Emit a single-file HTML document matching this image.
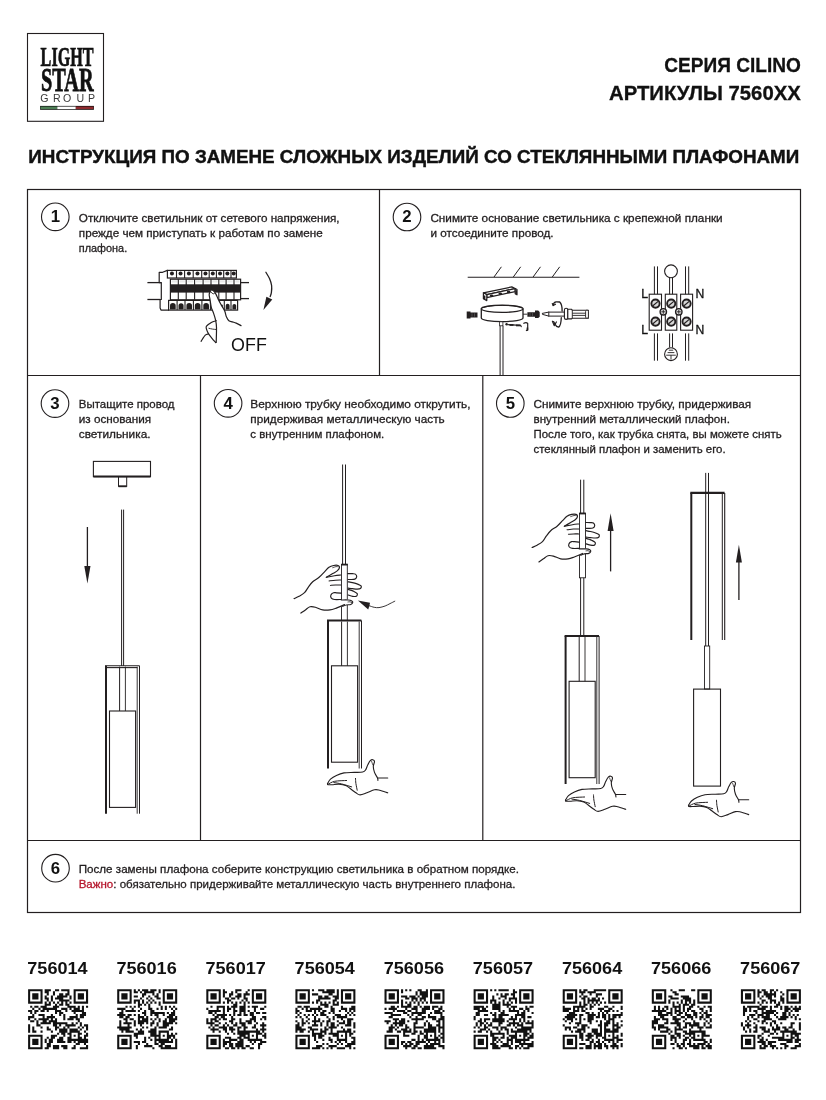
<!DOCTYPE html>
<html><head><meta charset="utf-8"><style>
html,body{margin:0;padding:0;background:#fff;}
body{width:826px;height:1100px;overflow:hidden;position:relative;font-family:"Liberation Sans",sans-serif;}
svg{position:absolute;left:0;top:0;will-change:transform;}
</style></head><body>
<svg width="826" height="1100" viewBox="0 0 826 1100">
<rect x="27.5" y="33.5" width="76" height="87.8" fill="none" stroke="#231f20" stroke-width="1.1"/>
<text x="40.6" y="66.1" font-family="Liberation Serif" font-size="27.8" font-weight="bold" fill="#111" textLength="53.0" lengthAdjust="spacingAndGlyphs" stroke="#111" stroke-width="0.7">LIGHT</text>
<text x="41.0" y="91.2" font-family="Liberation Serif" font-size="33.4" font-weight="bold" fill="#111" textLength="52.6" lengthAdjust="spacingAndGlyphs" stroke="#111" stroke-width="0.8">STAR</text>
<text x="40.2 53.0 63.0 76.4 88.0" y="102.0" font-family="Liberation Sans" font-size="10.6" fill="#3a3a3a">GROUP</text>
<rect x="40.1" y="105.9" width="53.8" height="3.9" fill="#111"/>
<rect x="40.6" y="106.6" width="16.7" height="2.5" fill="#4d7f55"/>
<rect x="57.3" y="106.6" width="18.5" height="2.5" fill="#fff"/>
<rect x="75.8" y="106.6" width="17.6" height="2.5" fill="#8e2a2e"/>
<text x="664.3" y="71.8" font-family="Liberation Sans" font-size="19.8" font-weight="bold" fill="#111" textLength="136.6" lengthAdjust="spacingAndGlyphs" stroke="#111" stroke-width="0.3">СЕРИЯ CILINO</text>
<text x="609.0" y="99.5" font-family="Liberation Sans" font-size="19.8" font-weight="bold" fill="#111" textLength="191.8" lengthAdjust="spacingAndGlyphs" stroke="#111" stroke-width="0.3">АРТИКУЛЫ 7560XX</text>
<text x="28.3" y="162.6" font-family="Liberation Sans" font-size="19.2" font-weight="bold" fill="#111" textLength="771.0" lengthAdjust="spacingAndGlyphs" stroke="#111" stroke-width="0.45">ИНСТРУКЦИЯ ПО ЗАМЕНЕ СЛОЖНЫХ ИЗДЕЛИЙ СО СТЕКЛЯННЫМИ ПЛАФОНАМИ</text>
<g stroke="#231f20" stroke-width="1.2" fill="none">
<rect x="27.5" y="189.5" width="773" height="723"/>
<line x1="379.5" y1="189.5" x2="379.5" y2="375.5"/>
<line x1="27.5" y1="375.5" x2="800.5" y2="375.5"/>
<line x1="200.5" y1="375.5" x2="200.5" y2="840.5"/>
<line x1="482.8" y1="375.5" x2="482.8" y2="840.5"/>
<line x1="27.5" y1="840.5" x2="800.5" y2="840.5"/>
</g>
<circle cx="55.3" cy="216.8" r="13.8" fill="none" stroke="#231f20" stroke-width="1.1"/>
<text x="55.3" y="222.20000000000002" font-family="Liberation Sans" font-size="16.8" font-weight="bold" fill="#111" text-anchor="middle">1</text>
<circle cx="407" cy="217" r="13.8" fill="none" stroke="#231f20" stroke-width="1.1"/>
<text x="407" y="222.4" font-family="Liberation Sans" font-size="16.8" font-weight="bold" fill="#111" text-anchor="middle">2</text>
<circle cx="55" cy="403.6" r="13.8" fill="none" stroke="#231f20" stroke-width="1.1"/>
<text x="55" y="409.0" font-family="Liberation Sans" font-size="16.8" font-weight="bold" fill="#111" text-anchor="middle">3</text>
<circle cx="228.1" cy="403.3" r="13.8" fill="none" stroke="#231f20" stroke-width="1.1"/>
<text x="228.1" y="408.7" font-family="Liberation Sans" font-size="16.8" font-weight="bold" fill="#111" text-anchor="middle">4</text>
<circle cx="510.3" cy="403.5" r="13.8" fill="none" stroke="#231f20" stroke-width="1.1"/>
<text x="510.3" y="408.9" font-family="Liberation Sans" font-size="16.8" font-weight="bold" fill="#111" text-anchor="middle">5</text>
<circle cx="55.5" cy="868.2" r="13.8" fill="none" stroke="#231f20" stroke-width="1.1"/>
<text x="55.5" y="873.6" font-family="Liberation Sans" font-size="16.8" font-weight="bold" fill="#111" text-anchor="middle">6</text>
<text x="78.8" y="221.7" font-family="Liberation Sans" font-size="11.8" font-weight="normal" fill="#231f20" textLength="260.8" lengthAdjust="spacingAndGlyphs" stroke="#1d1a1b" stroke-width="0.3">Отключите светильник от сетевого напряжения,</text>
<text x="78.8" y="236.8" font-family="Liberation Sans" font-size="11.8" font-weight="normal" fill="#231f20" textLength="244.0" lengthAdjust="spacingAndGlyphs" stroke="#1d1a1b" stroke-width="0.3">прежде чем приступать к работам по замене</text>
<text x="78.8" y="251.8" font-family="Liberation Sans" font-size="11.8" font-weight="normal" fill="#231f20" textLength="48.4" lengthAdjust="spacingAndGlyphs" stroke="#1d1a1b" stroke-width="0.3">плафона.</text>
<text x="430.4" y="221.7" font-family="Liberation Sans" font-size="11.8" font-weight="normal" fill="#231f20" textLength="292.2" lengthAdjust="spacingAndGlyphs" stroke="#1d1a1b" stroke-width="0.3">Снимите основание светильника с крепежной планки</text>
<text x="430.4" y="236.7" font-family="Liberation Sans" font-size="11.8" font-weight="normal" fill="#231f20" textLength="123.2" lengthAdjust="spacingAndGlyphs" stroke="#1d1a1b" stroke-width="0.3">и отсоедините провод.</text>
<text x="78.8" y="407.6" font-family="Liberation Sans" font-size="11.8" font-weight="normal" fill="#231f20" textLength="95.7" lengthAdjust="spacingAndGlyphs" stroke="#1d1a1b" stroke-width="0.3">Вытащите провод</text>
<text x="78.8" y="422.6" font-family="Liberation Sans" font-size="11.8" font-weight="normal" fill="#231f20" textLength="72.4" lengthAdjust="spacingAndGlyphs" stroke="#1d1a1b" stroke-width="0.3">из основания</text>
<text x="78.8" y="437.6" font-family="Liberation Sans" font-size="11.8" font-weight="normal" fill="#231f20" textLength="71.7" lengthAdjust="spacingAndGlyphs" stroke="#1d1a1b" stroke-width="0.3">светильника.</text>
<text x="250.3" y="407.7" font-family="Liberation Sans" font-size="11.8" font-weight="normal" fill="#231f20" textLength="220.3" lengthAdjust="spacingAndGlyphs" stroke="#1d1a1b" stroke-width="0.3">Верхнюю трубку необходимо открутить,</text>
<text x="250.3" y="422.7" font-family="Liberation Sans" font-size="11.8" font-weight="normal" fill="#231f20" textLength="194.4" lengthAdjust="spacingAndGlyphs" stroke="#1d1a1b" stroke-width="0.3">придерживая металлическую часть</text>
<text x="250.3" y="437.7" font-family="Liberation Sans" font-size="11.8" font-weight="normal" fill="#231f20" textLength="134.0" lengthAdjust="spacingAndGlyphs" stroke="#1d1a1b" stroke-width="0.3">с внутренним плафоном.</text>
<text x="533.5" y="407.9" font-family="Liberation Sans" font-size="11.8" font-weight="normal" fill="#231f20" textLength="217.7" lengthAdjust="spacingAndGlyphs" stroke="#1d1a1b" stroke-width="0.3">Снимите верхнюю трубку, придерживая</text>
<text x="533.5" y="422.7" font-family="Liberation Sans" font-size="11.8" font-weight="normal" fill="#231f20" textLength="196.4" lengthAdjust="spacingAndGlyphs" stroke="#1d1a1b" stroke-width="0.3">внутренний металлический плафон.</text>
<text x="533.5" y="437.8" font-family="Liberation Sans" font-size="11.8" font-weight="normal" fill="#231f20" textLength="248.1" lengthAdjust="spacingAndGlyphs" stroke="#1d1a1b" stroke-width="0.3">После того, как трубка снята, вы можете снять</text>
<text x="533.5" y="452.7" font-family="Liberation Sans" font-size="11.8" font-weight="normal" fill="#231f20" textLength="192.1" lengthAdjust="spacingAndGlyphs" stroke="#1d1a1b" stroke-width="0.3">стеклянный плафон и заменить его.</text>
<text x="78.7" y="872.8" font-family="Liberation Sans" font-size="11.8" font-weight="normal" fill="#231f20" textLength="440.3" lengthAdjust="spacingAndGlyphs" stroke="#1d1a1b" stroke-width="0.3">После замены плафона соберите конструкцию светильника в обратном порядке.</text>
<text x="78.7" y="887.8" font-family="Liberation Sans" font-size="11.8" fill="#231f20" stroke="#231f20" stroke-width="0.3" textLength="436.7" lengthAdjust="spacingAndGlyphs"><tspan fill="#b5152b" stroke="#b5152b">Важно</tspan>: обязательно придерживайте металлическую часть внутреннего плафона.</text>
<text x="27.3" y="974.4" font-family="Liberation Sans" font-size="17.0" font-weight="bold" fill="#111" textLength="60.3" lengthAdjust="spacingAndGlyphs">756014</text>
<path fill="#111" d="M28.10 989.20h14.48v2.07h-14.48zM44.65 989.20h6.21v2.07h-6.21zM55.00 989.20h4.14v2.07h-4.14zM61.20 989.20h8.28v2.07h-8.28zM73.62 989.20h14.48v2.07h-14.48zM28.10 991.27h2.07v2.07h-2.07zM40.51 991.27h2.07v2.07h-2.07zM44.65 991.27h4.14v2.07h-4.14zM52.93 991.27h2.07v2.07h-2.07zM67.41 991.27h2.07v2.07h-2.07zM73.62 991.27h2.07v2.07h-2.07zM86.03 991.27h2.07v2.07h-2.07zM28.10 993.34h2.07v2.07h-2.07zM32.24 993.34h6.21v2.07h-6.21zM40.51 993.34h2.07v2.07h-2.07zM46.72 993.34h2.07v2.07h-2.07zM52.93 993.34h2.07v2.07h-2.07zM59.13 993.34h4.14v2.07h-4.14zM65.34 993.34h4.14v2.07h-4.14zM73.62 993.34h2.07v2.07h-2.07zM77.76 993.34h6.21v2.07h-6.21zM86.03 993.34h2.07v2.07h-2.07zM28.10 995.41h2.07v2.07h-2.07zM32.24 995.41h6.21v2.07h-6.21zM40.51 995.41h2.07v2.07h-2.07zM44.65 995.41h2.07v2.07h-2.07zM50.86 995.41h2.07v2.07h-2.07zM57.07 995.41h10.34v2.07h-10.34zM69.48 995.41h2.07v2.07h-2.07zM73.62 995.41h2.07v2.07h-2.07zM77.76 995.41h6.21v2.07h-6.21zM86.03 995.41h2.07v2.07h-2.07zM28.10 997.48h2.07v2.07h-2.07zM32.24 997.48h6.21v2.07h-6.21zM40.51 997.48h2.07v2.07h-2.07zM44.65 997.48h4.14v2.07h-4.14zM50.86 997.48h2.07v2.07h-2.07zM55.00 997.48h8.28v2.07h-8.28zM69.48 997.48h2.07v2.07h-2.07zM73.62 997.48h2.07v2.07h-2.07zM77.76 997.48h6.21v2.07h-6.21zM86.03 997.48h2.07v2.07h-2.07zM28.10 999.54h2.07v2.07h-2.07zM40.51 999.54h2.07v2.07h-2.07zM46.72 999.54h2.07v2.07h-2.07zM50.86 999.54h2.07v2.07h-2.07zM59.13 999.54h10.34v2.07h-10.34zM73.62 999.54h2.07v2.07h-2.07zM86.03 999.54h2.07v2.07h-2.07zM28.10 1001.61h14.48v2.07h-14.48zM44.65 1001.61h2.07v2.07h-2.07zM48.79 1001.61h2.07v2.07h-2.07zM52.93 1001.61h2.07v2.07h-2.07zM57.07 1001.61h2.07v2.07h-2.07zM61.20 1001.61h2.07v2.07h-2.07zM65.34 1001.61h2.07v2.07h-2.07zM69.48 1001.61h2.07v2.07h-2.07zM73.62 1001.61h14.48v2.07h-14.48zM44.65 1003.68h6.21v2.07h-6.21zM55.00 1003.68h2.07v2.07h-2.07zM59.13 1003.68h4.14v2.07h-4.14zM65.34 1003.68h4.14v2.07h-4.14zM30.17 1005.75h2.07v2.07h-2.07zM34.31 1005.75h4.14v2.07h-4.14zM40.51 1005.75h6.21v2.07h-6.21zM52.93 1005.75h6.21v2.07h-6.21zM67.41 1005.75h8.28v2.07h-8.28zM77.76 1005.75h2.07v2.07h-2.07zM81.89 1005.75h2.07v2.07h-2.07zM86.03 1005.75h2.07v2.07h-2.07zM32.24 1007.82h2.07v2.07h-2.07zM38.44 1007.82h2.07v2.07h-2.07zM42.58 1007.82h14.48v2.07h-14.48zM61.20 1007.82h6.21v2.07h-6.21zM69.48 1007.82h2.07v2.07h-2.07zM73.62 1007.82h6.21v2.07h-6.21zM81.89 1007.82h2.07v2.07h-2.07zM28.10 1009.89h4.14v2.07h-4.14zM34.31 1009.89h4.14v2.07h-4.14zM40.51 1009.89h4.14v2.07h-4.14zM46.72 1009.89h2.07v2.07h-2.07zM55.00 1009.89h6.21v2.07h-6.21zM65.34 1009.89h2.07v2.07h-2.07zM71.55 1009.89h12.41v2.07h-12.41zM30.17 1011.96h2.07v2.07h-2.07zM34.31 1011.96h2.07v2.07h-2.07zM55.00 1011.96h2.07v2.07h-2.07zM59.13 1011.96h4.14v2.07h-4.14zM73.62 1011.96h2.07v2.07h-2.07zM81.89 1011.96h4.14v2.07h-4.14zM32.24 1014.03h2.07v2.07h-2.07zM38.44 1014.03h6.21v2.07h-6.21zM50.86 1014.03h2.07v2.07h-2.07zM59.13 1014.03h2.07v2.07h-2.07zM63.27 1014.03h2.07v2.07h-2.07zM75.69 1014.03h2.07v2.07h-2.07zM79.82 1014.03h6.21v2.07h-6.21zM28.10 1016.10h6.21v2.07h-6.21zM42.58 1016.10h2.07v2.07h-2.07zM46.72 1016.10h8.28v2.07h-8.28zM63.27 1016.10h2.07v2.07h-2.07zM69.48 1016.10h8.28v2.07h-8.28zM79.82 1016.10h4.14v2.07h-4.14zM28.10 1018.17h2.07v2.07h-2.07zM34.31 1018.17h2.07v2.07h-2.07zM38.44 1018.17h10.34v2.07h-10.34zM50.86 1018.17h2.07v2.07h-2.07zM55.00 1018.17h2.07v2.07h-2.07zM63.27 1018.17h2.07v2.07h-2.07zM67.41 1018.17h6.21v2.07h-6.21zM75.69 1018.17h4.14v2.07h-4.14zM30.17 1020.23h4.14v2.07h-4.14zM36.38 1020.23h2.07v2.07h-2.07zM42.58 1020.23h4.14v2.07h-4.14zM48.79 1020.23h8.28v2.07h-8.28zM77.76 1020.23h2.07v2.07h-2.07zM36.38 1022.30h2.07v2.07h-2.07zM40.51 1022.30h10.34v2.07h-10.34zM52.93 1022.30h14.48v2.07h-14.48zM71.55 1022.30h2.07v2.07h-2.07zM75.69 1022.30h2.07v2.07h-2.07zM79.82 1022.30h2.07v2.07h-2.07zM28.10 1024.37h2.07v2.07h-2.07zM36.38 1024.37h4.14v2.07h-4.14zM52.93 1024.37h4.14v2.07h-4.14zM59.13 1024.37h2.07v2.07h-2.07zM65.34 1024.37h10.34v2.07h-10.34zM79.82 1024.37h2.07v2.07h-2.07zM83.96 1024.37h4.14v2.07h-4.14zM28.10 1026.44h2.07v2.07h-2.07zM32.24 1026.44h2.07v2.07h-2.07zM40.51 1026.44h2.07v2.07h-2.07zM46.72 1026.44h2.07v2.07h-2.07zM55.00 1026.44h4.14v2.07h-4.14zM63.27 1026.44h2.07v2.07h-2.07zM67.41 1026.44h2.07v2.07h-2.07zM77.76 1026.44h2.07v2.07h-2.07zM81.89 1026.44h2.07v2.07h-2.07zM86.03 1026.44h2.07v2.07h-2.07zM28.10 1028.51h2.07v2.07h-2.07zM32.24 1028.51h2.07v2.07h-2.07zM46.72 1028.51h4.14v2.07h-4.14zM55.00 1028.51h2.07v2.07h-2.07zM59.13 1028.51h8.28v2.07h-8.28zM69.48 1028.51h8.28v2.07h-8.28zM79.82 1028.51h2.07v2.07h-2.07zM86.03 1028.51h2.07v2.07h-2.07zM28.10 1030.58h2.07v2.07h-2.07zM32.24 1030.58h4.14v2.07h-4.14zM40.51 1030.58h2.07v2.07h-2.07zM50.86 1030.58h2.07v2.07h-2.07zM59.13 1030.58h8.28v2.07h-8.28zM69.48 1030.58h10.34v2.07h-10.34zM83.96 1030.58h2.07v2.07h-2.07zM57.07 1032.65h2.07v2.07h-2.07zM61.20 1032.65h4.14v2.07h-4.14zM67.41 1032.65h4.14v2.07h-4.14zM77.76 1032.65h4.14v2.07h-4.14zM86.03 1032.65h2.07v2.07h-2.07zM28.10 1034.72h14.48v2.07h-14.48zM50.86 1034.72h6.21v2.07h-6.21zM63.27 1034.72h2.07v2.07h-2.07zM69.48 1034.72h2.07v2.07h-2.07zM73.62 1034.72h2.07v2.07h-2.07zM77.76 1034.72h2.07v2.07h-2.07zM83.96 1034.72h4.14v2.07h-4.14zM28.10 1036.79h2.07v2.07h-2.07zM40.51 1036.79h2.07v2.07h-2.07zM46.72 1036.79h2.07v2.07h-2.07zM50.86 1036.79h4.14v2.07h-4.14zM59.13 1036.79h4.14v2.07h-4.14zM67.41 1036.79h4.14v2.07h-4.14zM77.76 1036.79h4.14v2.07h-4.14zM83.96 1036.79h2.07v2.07h-2.07zM28.10 1038.86h2.07v2.07h-2.07zM32.24 1038.86h6.21v2.07h-6.21zM40.51 1038.86h2.07v2.07h-2.07zM44.65 1038.86h2.07v2.07h-2.07zM48.79 1038.86h4.14v2.07h-4.14zM57.07 1038.86h6.21v2.07h-6.21zM67.41 1038.86h20.69v2.07h-20.69zM28.10 1040.92h2.07v2.07h-2.07zM32.24 1040.92h6.21v2.07h-6.21zM40.51 1040.92h2.07v2.07h-2.07zM44.65 1040.92h2.07v2.07h-2.07zM48.79 1040.92h4.14v2.07h-4.14zM57.07 1040.92h8.28v2.07h-8.28zM67.41 1040.92h4.14v2.07h-4.14zM73.62 1040.92h2.07v2.07h-2.07zM77.76 1040.92h10.34v2.07h-10.34zM28.10 1042.99h2.07v2.07h-2.07zM32.24 1042.99h6.21v2.07h-6.21zM40.51 1042.99h2.07v2.07h-2.07zM46.72 1042.99h4.14v2.07h-4.14zM75.69 1042.99h4.14v2.07h-4.14zM83.96 1042.99h2.07v2.07h-2.07zM28.10 1045.06h2.07v2.07h-2.07zM40.51 1045.06h2.07v2.07h-2.07zM46.72 1045.06h4.14v2.07h-4.14zM52.93 1045.06h6.21v2.07h-6.21zM61.20 1045.06h6.21v2.07h-6.21zM73.62 1045.06h2.07v2.07h-2.07zM86.03 1045.06h2.07v2.07h-2.07zM28.10 1047.13h14.48v2.07h-14.48zM44.65 1047.13h4.14v2.07h-4.14zM52.93 1047.13h6.21v2.07h-6.21zM63.27 1047.13h4.14v2.07h-4.14zM71.55 1047.13h4.14v2.07h-4.14zM79.82 1047.13h8.28v2.07h-8.28z"/>
<text x="116.39999999999999" y="974.4" font-family="Liberation Sans" font-size="17.0" font-weight="bold" fill="#111" textLength="60.3" lengthAdjust="spacingAndGlyphs">756016</text>
<path fill="#111" d="M117.20 989.20h14.48v2.07h-14.48zM133.75 989.20h2.07v2.07h-2.07zM137.89 989.20h2.07v2.07h-2.07zM142.03 989.20h6.21v2.07h-6.21zM150.30 989.20h6.21v2.07h-6.21zM158.58 989.20h2.07v2.07h-2.07zM162.72 989.20h14.48v2.07h-14.48zM117.20 991.27h2.07v2.07h-2.07zM129.61 991.27h2.07v2.07h-2.07zM133.75 991.27h4.14v2.07h-4.14zM139.96 991.27h2.07v2.07h-2.07zM144.10 991.27h10.34v2.07h-10.34zM158.58 991.27h2.07v2.07h-2.07zM162.72 991.27h2.07v2.07h-2.07zM175.13 991.27h2.07v2.07h-2.07zM117.20 993.34h2.07v2.07h-2.07zM121.34 993.34h6.21v2.07h-6.21zM129.61 993.34h2.07v2.07h-2.07zM142.03 993.34h4.14v2.07h-4.14zM152.37 993.34h2.07v2.07h-2.07zM156.51 993.34h2.07v2.07h-2.07zM162.72 993.34h2.07v2.07h-2.07zM166.86 993.34h6.21v2.07h-6.21zM175.13 993.34h2.07v2.07h-2.07zM117.20 995.41h2.07v2.07h-2.07zM121.34 995.41h6.21v2.07h-6.21zM129.61 995.41h2.07v2.07h-2.07zM133.75 995.41h4.14v2.07h-4.14zM142.03 995.41h2.07v2.07h-2.07zM148.23 995.41h2.07v2.07h-2.07zM154.44 995.41h4.14v2.07h-4.14zM162.72 995.41h2.07v2.07h-2.07zM166.86 995.41h6.21v2.07h-6.21zM175.13 995.41h2.07v2.07h-2.07zM117.20 997.48h2.07v2.07h-2.07zM121.34 997.48h6.21v2.07h-6.21zM129.61 997.48h2.07v2.07h-2.07zM139.96 997.48h2.07v2.07h-2.07zM146.17 997.48h2.07v2.07h-2.07zM150.30 997.48h2.07v2.07h-2.07zM156.51 997.48h4.14v2.07h-4.14zM162.72 997.48h2.07v2.07h-2.07zM166.86 997.48h6.21v2.07h-6.21zM175.13 997.48h2.07v2.07h-2.07zM117.20 999.54h2.07v2.07h-2.07zM129.61 999.54h2.07v2.07h-2.07zM133.75 999.54h6.21v2.07h-6.21zM142.03 999.54h2.07v2.07h-2.07zM148.23 999.54h2.07v2.07h-2.07zM152.37 999.54h2.07v2.07h-2.07zM162.72 999.54h2.07v2.07h-2.07zM175.13 999.54h2.07v2.07h-2.07zM117.20 1001.61h14.48v2.07h-14.48zM133.75 1001.61h2.07v2.07h-2.07zM137.89 1001.61h2.07v2.07h-2.07zM142.03 1001.61h2.07v2.07h-2.07zM146.17 1001.61h2.07v2.07h-2.07zM150.30 1001.61h2.07v2.07h-2.07zM154.44 1001.61h2.07v2.07h-2.07zM158.58 1001.61h2.07v2.07h-2.07zM162.72 1001.61h14.48v2.07h-14.48zM137.89 1003.68h4.14v2.07h-4.14zM144.10 1003.68h2.07v2.07h-2.07zM148.23 1003.68h2.07v2.07h-2.07zM158.58 1003.68h2.07v2.07h-2.07zM125.48 1005.75h2.07v2.07h-2.07zM129.61 1005.75h2.07v2.07h-2.07zM133.75 1005.75h2.07v2.07h-2.07zM137.89 1005.75h2.07v2.07h-2.07zM148.23 1005.75h2.07v2.07h-2.07zM160.65 1005.75h2.07v2.07h-2.07zM164.79 1005.75h2.07v2.07h-2.07zM168.92 1005.75h2.07v2.07h-2.07zM173.06 1005.75h2.07v2.07h-2.07zM117.20 1007.82h8.28v2.07h-8.28zM131.68 1007.82h2.07v2.07h-2.07zM139.96 1007.82h2.07v2.07h-2.07zM148.23 1007.82h4.14v2.07h-4.14zM156.51 1007.82h2.07v2.07h-2.07zM160.65 1007.82h2.07v2.07h-2.07zM164.79 1007.82h2.07v2.07h-2.07zM170.99 1007.82h2.07v2.07h-2.07zM175.13 1007.82h2.07v2.07h-2.07zM121.34 1009.89h2.07v2.07h-2.07zM125.48 1009.89h10.34v2.07h-10.34zM137.89 1009.89h2.07v2.07h-2.07zM144.10 1009.89h2.07v2.07h-2.07zM150.30 1009.89h4.14v2.07h-4.14zM173.06 1009.89h2.07v2.07h-2.07zM119.27 1011.96h4.14v2.07h-4.14zM142.03 1011.96h4.14v2.07h-4.14zM150.30 1011.96h14.48v2.07h-14.48zM166.86 1011.96h2.07v2.07h-2.07zM170.99 1011.96h4.14v2.07h-4.14zM117.20 1014.03h8.28v2.07h-8.28zM127.54 1014.03h4.14v2.07h-4.14zM133.75 1014.03h2.07v2.07h-2.07zM137.89 1014.03h2.07v2.07h-2.07zM144.10 1014.03h2.07v2.07h-2.07zM150.30 1014.03h2.07v2.07h-2.07zM154.44 1014.03h4.14v2.07h-4.14zM162.72 1014.03h2.07v2.07h-2.07zM168.92 1014.03h6.21v2.07h-6.21zM119.27 1016.10h4.14v2.07h-4.14zM125.48 1016.10h4.14v2.07h-4.14zM137.89 1016.10h6.21v2.07h-6.21zM146.17 1016.10h2.07v2.07h-2.07zM156.51 1016.10h2.07v2.07h-2.07zM166.86 1016.10h6.21v2.07h-6.21zM175.13 1016.10h2.07v2.07h-2.07zM123.41 1018.17h4.14v2.07h-4.14zM129.61 1018.17h4.14v2.07h-4.14zM137.89 1018.17h2.07v2.07h-2.07zM142.03 1018.17h6.21v2.07h-6.21zM150.30 1018.17h2.07v2.07h-2.07zM154.44 1018.17h2.07v2.07h-2.07zM158.58 1018.17h2.07v2.07h-2.07zM164.79 1018.17h2.07v2.07h-2.07zM168.92 1018.17h8.28v2.07h-8.28zM119.27 1020.23h2.07v2.07h-2.07zM125.48 1020.23h2.07v2.07h-2.07zM133.75 1020.23h2.07v2.07h-2.07zM137.89 1020.23h10.34v2.07h-10.34zM152.37 1020.23h2.07v2.07h-2.07zM158.58 1020.23h2.07v2.07h-2.07zM162.72 1020.23h4.14v2.07h-4.14zM168.92 1020.23h6.21v2.07h-6.21zM119.27 1022.30h2.07v2.07h-2.07zM123.41 1022.30h8.28v2.07h-8.28zM133.75 1022.30h2.07v2.07h-2.07zM137.89 1022.30h6.21v2.07h-6.21zM146.17 1022.30h2.07v2.07h-2.07zM150.30 1022.30h4.14v2.07h-4.14zM156.51 1022.30h2.07v2.07h-2.07zM162.72 1022.30h10.34v2.07h-10.34zM175.13 1022.30h2.07v2.07h-2.07zM119.27 1024.37h2.07v2.07h-2.07zM127.54 1024.37h2.07v2.07h-2.07zM133.75 1024.37h2.07v2.07h-2.07zM139.96 1024.37h2.07v2.07h-2.07zM150.30 1024.37h2.07v2.07h-2.07zM156.51 1024.37h2.07v2.07h-2.07zM162.72 1024.37h6.21v2.07h-6.21zM117.20 1026.44h14.48v2.07h-14.48zM142.03 1026.44h2.07v2.07h-2.07zM146.17 1026.44h2.07v2.07h-2.07zM154.44 1026.44h2.07v2.07h-2.07zM158.58 1026.44h8.28v2.07h-8.28zM170.99 1026.44h2.07v2.07h-2.07zM119.27 1028.51h10.34v2.07h-10.34zM135.82 1028.51h2.07v2.07h-2.07zM139.96 1028.51h2.07v2.07h-2.07zM150.30 1028.51h6.21v2.07h-6.21zM168.92 1028.51h4.14v2.07h-4.14zM121.34 1030.58h2.07v2.07h-2.07zM125.48 1030.58h8.28v2.07h-8.28zM137.89 1030.58h6.21v2.07h-6.21zM148.23 1030.58h8.28v2.07h-8.28zM158.58 1030.58h10.34v2.07h-10.34zM133.75 1032.65h10.34v2.07h-10.34zM150.30 1032.65h6.21v2.07h-6.21zM158.58 1032.65h2.07v2.07h-2.07zM166.86 1032.65h2.07v2.07h-2.07zM170.99 1032.65h2.07v2.07h-2.07zM175.13 1032.65h2.07v2.07h-2.07zM117.20 1034.72h14.48v2.07h-14.48zM133.75 1034.72h4.14v2.07h-4.14zM150.30 1034.72h10.34v2.07h-10.34zM162.72 1034.72h2.07v2.07h-2.07zM166.86 1034.72h8.28v2.07h-8.28zM117.20 1036.79h2.07v2.07h-2.07zM129.61 1036.79h2.07v2.07h-2.07zM135.82 1036.79h2.07v2.07h-2.07zM144.10 1036.79h2.07v2.07h-2.07zM148.23 1036.79h2.07v2.07h-2.07zM154.44 1036.79h2.07v2.07h-2.07zM158.58 1036.79h2.07v2.07h-2.07zM166.86 1036.79h4.14v2.07h-4.14zM173.06 1036.79h2.07v2.07h-2.07zM117.20 1038.86h2.07v2.07h-2.07zM121.34 1038.86h6.21v2.07h-6.21zM129.61 1038.86h2.07v2.07h-2.07zM144.10 1038.86h2.07v2.07h-2.07zM150.30 1038.86h2.07v2.07h-2.07zM154.44 1038.86h14.48v2.07h-14.48zM170.99 1038.86h2.07v2.07h-2.07zM175.13 1038.86h2.07v2.07h-2.07zM117.20 1040.92h2.07v2.07h-2.07zM121.34 1040.92h6.21v2.07h-6.21zM129.61 1040.92h2.07v2.07h-2.07zM133.75 1040.92h6.21v2.07h-6.21zM142.03 1040.92h4.14v2.07h-4.14zM154.44 1040.92h2.07v2.07h-2.07zM158.58 1040.92h14.48v2.07h-14.48zM175.13 1040.92h2.07v2.07h-2.07zM117.20 1042.99h2.07v2.07h-2.07zM121.34 1042.99h6.21v2.07h-6.21zM129.61 1042.99h2.07v2.07h-2.07zM137.89 1042.99h2.07v2.07h-2.07zM146.17 1042.99h2.07v2.07h-2.07zM154.44 1042.99h4.14v2.07h-4.14zM160.65 1042.99h4.14v2.07h-4.14zM175.13 1042.99h2.07v2.07h-2.07zM117.20 1045.06h2.07v2.07h-2.07zM129.61 1045.06h2.07v2.07h-2.07zM135.82 1045.06h2.07v2.07h-2.07zM144.10 1045.06h8.28v2.07h-8.28zM158.58 1045.06h4.14v2.07h-4.14zM164.79 1045.06h6.21v2.07h-6.21zM175.13 1045.06h2.07v2.07h-2.07zM117.20 1047.13h14.48v2.07h-14.48zM135.82 1047.13h2.07v2.07h-2.07zM152.37 1047.13h2.07v2.07h-2.07zM160.65 1047.13h16.55v2.07h-16.55z"/>
<text x="205.5" y="974.4" font-family="Liberation Sans" font-size="17.0" font-weight="bold" fill="#111" textLength="60.3" lengthAdjust="spacingAndGlyphs">756017</text>
<path fill="#111" d="M206.30 989.20h14.48v2.07h-14.48zM222.85 989.20h2.07v2.07h-2.07zM235.27 989.20h6.21v2.07h-6.21zM247.68 989.20h2.07v2.07h-2.07zM251.82 989.20h14.48v2.07h-14.48zM206.30 991.27h2.07v2.07h-2.07zM218.71 991.27h2.07v2.07h-2.07zM222.85 991.27h4.14v2.07h-4.14zM231.13 991.27h2.07v2.07h-2.07zM235.27 991.27h2.07v2.07h-2.07zM245.61 991.27h2.07v2.07h-2.07zM251.82 991.27h2.07v2.07h-2.07zM264.23 991.27h2.07v2.07h-2.07zM206.30 993.34h2.07v2.07h-2.07zM210.44 993.34h6.21v2.07h-6.21zM218.71 993.34h2.07v2.07h-2.07zM222.85 993.34h2.07v2.07h-2.07zM229.06 993.34h4.14v2.07h-4.14zM237.33 993.34h4.14v2.07h-4.14zM243.54 993.34h6.21v2.07h-6.21zM251.82 993.34h2.07v2.07h-2.07zM255.96 993.34h6.21v2.07h-6.21zM264.23 993.34h2.07v2.07h-2.07zM206.30 995.41h2.07v2.07h-2.07zM210.44 995.41h6.21v2.07h-6.21zM218.71 995.41h2.07v2.07h-2.07zM222.85 995.41h2.07v2.07h-2.07zM229.06 995.41h2.07v2.07h-2.07zM235.27 995.41h6.21v2.07h-6.21zM243.54 995.41h2.07v2.07h-2.07zM251.82 995.41h2.07v2.07h-2.07zM255.96 995.41h6.21v2.07h-6.21zM264.23 995.41h2.07v2.07h-2.07zM206.30 997.48h2.07v2.07h-2.07zM210.44 997.48h6.21v2.07h-6.21zM218.71 997.48h2.07v2.07h-2.07zM224.92 997.48h4.14v2.07h-4.14zM231.13 997.48h4.14v2.07h-4.14zM237.33 997.48h2.07v2.07h-2.07zM243.54 997.48h4.14v2.07h-4.14zM251.82 997.48h2.07v2.07h-2.07zM255.96 997.48h6.21v2.07h-6.21zM264.23 997.48h2.07v2.07h-2.07zM206.30 999.54h2.07v2.07h-2.07zM218.71 999.54h2.07v2.07h-2.07zM226.99 999.54h4.14v2.07h-4.14zM241.47 999.54h2.07v2.07h-2.07zM245.61 999.54h2.07v2.07h-2.07zM251.82 999.54h2.07v2.07h-2.07zM264.23 999.54h2.07v2.07h-2.07zM206.30 1001.61h14.48v2.07h-14.48zM222.85 1001.61h2.07v2.07h-2.07zM226.99 1001.61h2.07v2.07h-2.07zM231.13 1001.61h2.07v2.07h-2.07zM235.27 1001.61h2.07v2.07h-2.07zM239.40 1001.61h2.07v2.07h-2.07zM243.54 1001.61h2.07v2.07h-2.07zM247.68 1001.61h2.07v2.07h-2.07zM251.82 1001.61h14.48v2.07h-14.48zM233.20 1003.68h4.14v2.07h-4.14zM243.54 1003.68h2.07v2.07h-2.07zM210.44 1005.75h2.07v2.07h-2.07zM216.64 1005.75h8.28v2.07h-8.28zM226.99 1005.75h2.07v2.07h-2.07zM231.13 1005.75h6.21v2.07h-6.21zM239.40 1005.75h6.21v2.07h-6.21zM247.68 1005.75h2.07v2.07h-2.07zM251.82 1005.75h6.21v2.07h-6.21zM264.23 1005.75h2.07v2.07h-2.07zM206.30 1007.82h2.07v2.07h-2.07zM216.64 1007.82h2.07v2.07h-2.07zM222.85 1007.82h2.07v2.07h-2.07zM226.99 1007.82h4.14v2.07h-4.14zM233.20 1007.82h2.07v2.07h-2.07zM239.40 1007.82h6.21v2.07h-6.21zM253.89 1007.82h2.07v2.07h-2.07zM260.09 1007.82h4.14v2.07h-4.14zM208.37 1009.89h12.41v2.07h-12.41zM222.85 1009.89h2.07v2.07h-2.07zM226.99 1009.89h2.07v2.07h-2.07zM233.20 1009.89h4.14v2.07h-4.14zM239.40 1009.89h6.21v2.07h-6.21zM247.68 1009.89h2.07v2.07h-2.07zM253.89 1009.89h2.07v2.07h-2.07zM208.37 1011.96h4.14v2.07h-4.14zM214.58 1011.96h2.07v2.07h-2.07zM222.85 1011.96h2.07v2.07h-2.07zM233.20 1011.96h2.07v2.07h-2.07zM239.40 1011.96h2.07v2.07h-2.07zM243.54 1011.96h2.07v2.07h-2.07zM249.75 1011.96h4.14v2.07h-4.14zM255.96 1011.96h4.14v2.07h-4.14zM262.16 1011.96h4.14v2.07h-4.14zM212.51 1014.03h2.07v2.07h-2.07zM216.64 1014.03h10.34v2.07h-10.34zM229.06 1014.03h2.07v2.07h-2.07zM233.20 1014.03h2.07v2.07h-2.07zM237.33 1014.03h4.14v2.07h-4.14zM243.54 1014.03h4.14v2.07h-4.14zM249.75 1014.03h4.14v2.07h-4.14zM214.58 1016.10h4.14v2.07h-4.14zM220.78 1016.10h4.14v2.07h-4.14zM231.13 1016.10h2.07v2.07h-2.07zM251.82 1016.10h4.14v2.07h-4.14zM262.16 1016.10h4.14v2.07h-4.14zM206.30 1018.17h2.07v2.07h-2.07zM210.44 1018.17h6.21v2.07h-6.21zM218.71 1018.17h2.07v2.07h-2.07zM222.85 1018.17h4.14v2.07h-4.14zM231.13 1018.17h4.14v2.07h-4.14zM239.40 1018.17h2.07v2.07h-2.07zM249.75 1018.17h6.21v2.07h-6.21zM260.09 1018.17h2.07v2.07h-2.07zM264.23 1018.17h2.07v2.07h-2.07zM206.30 1020.23h2.07v2.07h-2.07zM210.44 1020.23h2.07v2.07h-2.07zM214.58 1020.23h4.14v2.07h-4.14zM229.06 1020.23h4.14v2.07h-4.14zM239.40 1020.23h2.07v2.07h-2.07zM245.61 1020.23h6.21v2.07h-6.21zM253.89 1020.23h2.07v2.07h-2.07zM206.30 1022.30h8.28v2.07h-8.28zM218.71 1022.30h2.07v2.07h-2.07zM224.92 1022.30h2.07v2.07h-2.07zM231.13 1022.30h2.07v2.07h-2.07zM235.27 1022.30h2.07v2.07h-2.07zM239.40 1022.30h6.21v2.07h-6.21zM247.68 1022.30h4.14v2.07h-4.14zM255.96 1022.30h2.07v2.07h-2.07zM262.16 1022.30h2.07v2.07h-2.07zM210.44 1024.37h2.07v2.07h-2.07zM214.58 1024.37h4.14v2.07h-4.14zM222.85 1024.37h2.07v2.07h-2.07zM226.99 1024.37h2.07v2.07h-2.07zM233.20 1024.37h4.14v2.07h-4.14zM241.47 1024.37h4.14v2.07h-4.14zM253.89 1024.37h2.07v2.07h-2.07zM260.09 1024.37h6.21v2.07h-6.21zM208.37 1026.44h2.07v2.07h-2.07zM212.51 1026.44h2.07v2.07h-2.07zM218.71 1026.44h8.28v2.07h-8.28zM229.06 1026.44h4.14v2.07h-4.14zM237.33 1026.44h4.14v2.07h-4.14zM243.54 1026.44h4.14v2.07h-4.14zM251.82 1026.44h4.14v2.07h-4.14zM262.16 1026.44h2.07v2.07h-2.07zM210.44 1028.51h8.28v2.07h-8.28zM222.85 1028.51h4.14v2.07h-4.14zM229.06 1028.51h6.21v2.07h-6.21zM237.33 1028.51h2.07v2.07h-2.07zM243.54 1028.51h2.07v2.07h-2.07zM255.96 1028.51h2.07v2.07h-2.07zM260.09 1028.51h6.21v2.07h-6.21zM212.51 1030.58h2.07v2.07h-2.07zM218.71 1030.58h2.07v2.07h-2.07zM224.92 1030.58h2.07v2.07h-2.07zM231.13 1030.58h2.07v2.07h-2.07zM237.33 1030.58h22.76v2.07h-22.76zM262.16 1030.58h2.07v2.07h-2.07zM226.99 1032.65h2.07v2.07h-2.07zM233.20 1032.65h2.07v2.07h-2.07zM237.33 1032.65h12.41v2.07h-12.41zM255.96 1032.65h6.21v2.07h-6.21zM264.23 1032.65h2.07v2.07h-2.07zM206.30 1034.72h14.48v2.07h-14.48zM239.40 1034.72h6.21v2.07h-6.21zM247.68 1034.72h2.07v2.07h-2.07zM251.82 1034.72h2.07v2.07h-2.07zM255.96 1034.72h2.07v2.07h-2.07zM262.16 1034.72h4.14v2.07h-4.14zM206.30 1036.79h2.07v2.07h-2.07zM218.71 1036.79h2.07v2.07h-2.07zM224.92 1036.79h6.21v2.07h-6.21zM237.33 1036.79h4.14v2.07h-4.14zM243.54 1036.79h6.21v2.07h-6.21zM255.96 1036.79h2.07v2.07h-2.07zM264.23 1036.79h2.07v2.07h-2.07zM206.30 1038.86h2.07v2.07h-2.07zM210.44 1038.86h6.21v2.07h-6.21zM218.71 1038.86h2.07v2.07h-2.07zM222.85 1038.86h2.07v2.07h-2.07zM229.06 1038.86h8.28v2.07h-8.28zM239.40 1038.86h4.14v2.07h-4.14zM247.68 1038.86h14.48v2.07h-14.48zM206.30 1040.92h2.07v2.07h-2.07zM210.44 1040.92h6.21v2.07h-6.21zM218.71 1040.92h2.07v2.07h-2.07zM222.85 1040.92h8.28v2.07h-8.28zM237.33 1040.92h6.21v2.07h-6.21zM249.75 1040.92h2.07v2.07h-2.07zM253.89 1040.92h2.07v2.07h-2.07zM260.09 1040.92h6.21v2.07h-6.21zM206.30 1042.99h2.07v2.07h-2.07zM210.44 1042.99h6.21v2.07h-6.21zM218.71 1042.99h2.07v2.07h-2.07zM222.85 1042.99h4.14v2.07h-4.14zM229.06 1042.99h4.14v2.07h-4.14zM235.27 1042.99h8.28v2.07h-8.28zM251.82 1042.99h2.07v2.07h-2.07zM258.02 1042.99h4.14v2.07h-4.14zM206.30 1045.06h2.07v2.07h-2.07zM218.71 1045.06h2.07v2.07h-2.07zM222.85 1045.06h2.07v2.07h-2.07zM229.06 1045.06h4.14v2.07h-4.14zM235.27 1045.06h8.28v2.07h-8.28zM245.61 1045.06h4.14v2.07h-4.14zM258.02 1045.06h2.07v2.07h-2.07zM206.30 1047.13h14.48v2.07h-14.48zM224.92 1047.13h4.14v2.07h-4.14zM231.13 1047.13h4.14v2.07h-4.14zM237.33 1047.13h2.07v2.07h-2.07zM241.47 1047.13h4.14v2.07h-4.14zM249.75 1047.13h4.14v2.07h-4.14zM258.02 1047.13h2.07v2.07h-2.07z"/>
<text x="294.59999999999997" y="974.4" font-family="Liberation Sans" font-size="17.0" font-weight="bold" fill="#111" textLength="60.3" lengthAdjust="spacingAndGlyphs">756054</text>
<path fill="#111" d="M295.40 989.20h14.48v2.07h-14.48zM311.95 989.20h2.07v2.07h-2.07zM318.16 989.20h6.21v2.07h-6.21zM326.43 989.20h8.28v2.07h-8.28zM336.78 989.20h2.07v2.07h-2.07zM340.92 989.20h14.48v2.07h-14.48zM295.40 991.27h2.07v2.07h-2.07zM307.81 991.27h2.07v2.07h-2.07zM322.30 991.27h12.41v2.07h-12.41zM336.78 991.27h2.07v2.07h-2.07zM340.92 991.27h2.07v2.07h-2.07zM353.33 991.27h2.07v2.07h-2.07zM295.40 993.34h2.07v2.07h-2.07zM299.54 993.34h6.21v2.07h-6.21zM307.81 993.34h2.07v2.07h-2.07zM311.95 993.34h6.21v2.07h-6.21zM328.50 993.34h4.14v2.07h-4.14zM336.78 993.34h2.07v2.07h-2.07zM340.92 993.34h2.07v2.07h-2.07zM345.06 993.34h6.21v2.07h-6.21zM353.33 993.34h2.07v2.07h-2.07zM295.40 995.41h2.07v2.07h-2.07zM299.54 995.41h6.21v2.07h-6.21zM307.81 995.41h2.07v2.07h-2.07zM318.16 995.41h4.14v2.07h-4.14zM324.37 995.41h4.14v2.07h-4.14zM332.64 995.41h6.21v2.07h-6.21zM340.92 995.41h2.07v2.07h-2.07zM345.06 995.41h6.21v2.07h-6.21zM353.33 995.41h2.07v2.07h-2.07zM295.40 997.48h2.07v2.07h-2.07zM299.54 997.48h6.21v2.07h-6.21zM307.81 997.48h2.07v2.07h-2.07zM318.16 997.48h12.41v2.07h-12.41zM334.71 997.48h4.14v2.07h-4.14zM340.92 997.48h2.07v2.07h-2.07zM345.06 997.48h6.21v2.07h-6.21zM353.33 997.48h2.07v2.07h-2.07zM295.40 999.54h2.07v2.07h-2.07zM307.81 999.54h2.07v2.07h-2.07zM316.09 999.54h4.14v2.07h-4.14zM332.64 999.54h4.14v2.07h-4.14zM340.92 999.54h2.07v2.07h-2.07zM353.33 999.54h2.07v2.07h-2.07zM295.40 1001.61h14.48v2.07h-14.48zM311.95 1001.61h2.07v2.07h-2.07zM316.09 1001.61h2.07v2.07h-2.07zM320.23 1001.61h2.07v2.07h-2.07zM324.37 1001.61h2.07v2.07h-2.07zM328.50 1001.61h2.07v2.07h-2.07zM332.64 1001.61h2.07v2.07h-2.07zM336.78 1001.61h2.07v2.07h-2.07zM340.92 1001.61h14.48v2.07h-14.48zM320.23 1003.68h8.28v2.07h-8.28zM332.64 1003.68h6.21v2.07h-6.21zM297.47 1005.75h4.14v2.07h-4.14zM303.68 1005.75h6.21v2.07h-6.21zM318.16 1005.75h2.07v2.07h-2.07zM324.37 1005.75h4.14v2.07h-4.14zM330.57 1005.75h2.07v2.07h-2.07zM340.92 1005.75h2.07v2.07h-2.07zM351.26 1005.75h4.14v2.07h-4.14zM295.40 1007.82h2.07v2.07h-2.07zM301.61 1007.82h2.07v2.07h-2.07zM305.74 1007.82h2.07v2.07h-2.07zM309.88 1007.82h12.41v2.07h-12.41zM330.57 1007.82h4.14v2.07h-4.14zM340.92 1007.82h6.21v2.07h-6.21zM349.19 1007.82h6.21v2.07h-6.21zM295.40 1009.89h4.14v2.07h-4.14zM305.74 1009.89h6.21v2.07h-6.21zM314.02 1009.89h2.07v2.07h-2.07zM318.16 1009.89h2.07v2.07h-2.07zM322.30 1009.89h4.14v2.07h-4.14zM330.57 1009.89h4.14v2.07h-4.14zM338.85 1009.89h2.07v2.07h-2.07zM345.06 1009.89h2.07v2.07h-2.07zM349.19 1009.89h2.07v2.07h-2.07zM353.33 1009.89h2.07v2.07h-2.07zM295.40 1011.96h2.07v2.07h-2.07zM299.54 1011.96h2.07v2.07h-2.07zM314.02 1011.96h2.07v2.07h-2.07zM320.23 1011.96h4.14v2.07h-4.14zM328.50 1011.96h2.07v2.07h-2.07zM332.64 1011.96h2.07v2.07h-2.07zM347.12 1011.96h2.07v2.07h-2.07zM351.26 1011.96h2.07v2.07h-2.07zM297.47 1014.03h2.07v2.07h-2.07zM303.68 1014.03h2.07v2.07h-2.07zM307.81 1014.03h2.07v2.07h-2.07zM311.95 1014.03h2.07v2.07h-2.07zM316.09 1014.03h2.07v2.07h-2.07zM320.23 1014.03h6.21v2.07h-6.21zM334.71 1014.03h6.21v2.07h-6.21zM345.06 1014.03h2.07v2.07h-2.07zM349.19 1014.03h2.07v2.07h-2.07zM353.33 1014.03h2.07v2.07h-2.07zM295.40 1016.10h2.07v2.07h-2.07zM299.54 1016.10h2.07v2.07h-2.07zM305.74 1016.10h2.07v2.07h-2.07zM314.02 1016.10h2.07v2.07h-2.07zM326.43 1016.10h2.07v2.07h-2.07zM332.64 1016.10h2.07v2.07h-2.07zM336.78 1016.10h10.34v2.07h-10.34zM301.61 1018.17h2.07v2.07h-2.07zM307.81 1018.17h2.07v2.07h-2.07zM314.02 1018.17h2.07v2.07h-2.07zM318.16 1018.17h2.07v2.07h-2.07zM328.50 1018.17h2.07v2.07h-2.07zM332.64 1018.17h2.07v2.07h-2.07zM340.92 1018.17h2.07v2.07h-2.07zM347.12 1018.17h6.21v2.07h-6.21zM295.40 1020.23h2.07v2.07h-2.07zM301.61 1020.23h2.07v2.07h-2.07zM305.74 1020.23h2.07v2.07h-2.07zM311.95 1020.23h8.28v2.07h-8.28zM322.30 1020.23h2.07v2.07h-2.07zM326.43 1020.23h4.14v2.07h-4.14zM336.78 1020.23h2.07v2.07h-2.07zM342.99 1020.23h2.07v2.07h-2.07zM347.12 1020.23h4.14v2.07h-4.14zM297.47 1022.30h2.07v2.07h-2.07zM301.61 1022.30h4.14v2.07h-4.14zM307.81 1022.30h2.07v2.07h-2.07zM314.02 1022.30h2.07v2.07h-2.07zM320.23 1022.30h2.07v2.07h-2.07zM326.43 1022.30h2.07v2.07h-2.07zM330.57 1022.30h4.14v2.07h-4.14zM338.85 1022.30h6.21v2.07h-6.21zM347.12 1022.30h4.14v2.07h-4.14zM353.33 1022.30h2.07v2.07h-2.07zM295.40 1024.37h4.14v2.07h-4.14zM301.61 1024.37h2.07v2.07h-2.07zM311.95 1024.37h6.21v2.07h-6.21zM320.23 1024.37h2.07v2.07h-2.07zM326.43 1024.37h2.07v2.07h-2.07zM330.57 1024.37h4.14v2.07h-4.14zM336.78 1024.37h2.07v2.07h-2.07zM345.06 1024.37h6.21v2.07h-6.21zM353.33 1024.37h2.07v2.07h-2.07zM295.40 1026.44h6.21v2.07h-6.21zM307.81 1026.44h4.14v2.07h-4.14zM324.37 1026.44h2.07v2.07h-2.07zM328.50 1026.44h8.28v2.07h-8.28zM340.92 1026.44h2.07v2.07h-2.07zM353.33 1026.44h2.07v2.07h-2.07zM295.40 1028.51h10.34v2.07h-10.34zM309.88 1028.51h8.28v2.07h-8.28zM320.23 1028.51h2.07v2.07h-2.07zM324.37 1028.51h4.14v2.07h-4.14zM330.57 1028.51h2.07v2.07h-2.07zM342.99 1028.51h2.07v2.07h-2.07zM347.12 1028.51h4.14v2.07h-4.14zM295.40 1030.58h2.07v2.07h-2.07zM299.54 1030.58h4.14v2.07h-4.14zM307.81 1030.58h2.07v2.07h-2.07zM311.95 1030.58h2.07v2.07h-2.07zM320.23 1030.58h6.21v2.07h-6.21zM330.57 1030.58h2.07v2.07h-2.07zM336.78 1030.58h14.48v2.07h-14.48zM353.33 1030.58h2.07v2.07h-2.07zM311.95 1032.65h10.34v2.07h-10.34zM324.37 1032.65h2.07v2.07h-2.07zM328.50 1032.65h10.34v2.07h-10.34zM345.06 1032.65h2.07v2.07h-2.07zM349.19 1032.65h4.14v2.07h-4.14zM295.40 1034.72h14.48v2.07h-14.48zM311.95 1034.72h4.14v2.07h-4.14zM318.16 1034.72h6.21v2.07h-6.21zM332.64 1034.72h6.21v2.07h-6.21zM340.92 1034.72h2.07v2.07h-2.07zM345.06 1034.72h2.07v2.07h-2.07zM349.19 1034.72h2.07v2.07h-2.07zM295.40 1036.79h2.07v2.07h-2.07zM307.81 1036.79h2.07v2.07h-2.07zM314.02 1036.79h2.07v2.07h-2.07zM318.16 1036.79h4.14v2.07h-4.14zM328.50 1036.79h2.07v2.07h-2.07zM336.78 1036.79h2.07v2.07h-2.07zM345.06 1036.79h2.07v2.07h-2.07zM351.26 1036.79h4.14v2.07h-4.14zM295.40 1038.86h2.07v2.07h-2.07zM299.54 1038.86h6.21v2.07h-6.21zM307.81 1038.86h2.07v2.07h-2.07zM314.02 1038.86h2.07v2.07h-2.07zM322.30 1038.86h2.07v2.07h-2.07zM328.50 1038.86h4.14v2.07h-4.14zM336.78 1038.86h10.34v2.07h-10.34zM353.33 1038.86h2.07v2.07h-2.07zM295.40 1040.92h2.07v2.07h-2.07zM299.54 1040.92h6.21v2.07h-6.21zM307.81 1040.92h2.07v2.07h-2.07zM316.09 1040.92h2.07v2.07h-2.07zM330.57 1040.92h2.07v2.07h-2.07zM334.71 1040.92h2.07v2.07h-2.07zM338.85 1040.92h2.07v2.07h-2.07zM345.06 1040.92h2.07v2.07h-2.07zM351.26 1040.92h4.14v2.07h-4.14zM295.40 1042.99h2.07v2.07h-2.07zM299.54 1042.99h6.21v2.07h-6.21zM307.81 1042.99h2.07v2.07h-2.07zM322.30 1042.99h2.07v2.07h-2.07zM326.43 1042.99h2.07v2.07h-2.07zM336.78 1042.99h2.07v2.07h-2.07zM340.92 1042.99h2.07v2.07h-2.07zM347.12 1042.99h8.28v2.07h-8.28zM295.40 1045.06h2.07v2.07h-2.07zM307.81 1045.06h2.07v2.07h-2.07zM316.09 1045.06h6.21v2.07h-6.21zM328.50 1045.06h8.28v2.07h-8.28zM345.06 1045.06h6.21v2.07h-6.21zM295.40 1047.13h14.48v2.07h-14.48zM311.95 1047.13h8.28v2.07h-8.28zM322.30 1047.13h2.07v2.07h-2.07zM326.43 1047.13h2.07v2.07h-2.07zM330.57 1047.13h2.07v2.07h-2.07zM336.78 1047.13h8.28v2.07h-8.28zM349.19 1047.13h2.07v2.07h-2.07zM353.33 1047.13h2.07v2.07h-2.07z"/>
<text x="383.7" y="974.4" font-family="Liberation Sans" font-size="17.0" font-weight="bold" fill="#111" textLength="60.3" lengthAdjust="spacingAndGlyphs">756056</text>
<path fill="#111" d="M384.50 989.20h14.48v2.07h-14.48zM401.05 989.20h2.07v2.07h-2.07zM405.19 989.20h2.07v2.07h-2.07zM409.33 989.20h2.07v2.07h-2.07zM417.60 989.20h4.14v2.07h-4.14zM425.88 989.20h2.07v2.07h-2.07zM430.02 989.20h14.48v2.07h-14.48zM384.50 991.27h2.07v2.07h-2.07zM396.91 991.27h2.07v2.07h-2.07zM401.05 991.27h2.07v2.07h-2.07zM415.53 991.27h2.07v2.07h-2.07zM419.67 991.27h8.28v2.07h-8.28zM430.02 991.27h2.07v2.07h-2.07zM442.43 991.27h2.07v2.07h-2.07zM384.50 993.34h2.07v2.07h-2.07zM388.64 993.34h6.21v2.07h-6.21zM396.91 993.34h2.07v2.07h-2.07zM415.53 993.34h2.07v2.07h-2.07zM419.67 993.34h8.28v2.07h-8.28zM430.02 993.34h2.07v2.07h-2.07zM434.16 993.34h6.21v2.07h-6.21zM442.43 993.34h2.07v2.07h-2.07zM384.50 995.41h2.07v2.07h-2.07zM388.64 995.41h6.21v2.07h-6.21zM396.91 995.41h2.07v2.07h-2.07zM401.05 995.41h6.21v2.07h-6.21zM409.33 995.41h6.21v2.07h-6.21zM417.60 995.41h2.07v2.07h-2.07zM421.74 995.41h6.21v2.07h-6.21zM430.02 995.41h2.07v2.07h-2.07zM434.16 995.41h6.21v2.07h-6.21zM442.43 995.41h2.07v2.07h-2.07zM384.50 997.48h2.07v2.07h-2.07zM388.64 997.48h6.21v2.07h-6.21zM396.91 997.48h2.07v2.07h-2.07zM405.19 997.48h4.14v2.07h-4.14zM411.40 997.48h6.21v2.07h-6.21zM419.67 997.48h6.21v2.07h-6.21zM430.02 997.48h2.07v2.07h-2.07zM434.16 997.48h6.21v2.07h-6.21zM442.43 997.48h2.07v2.07h-2.07zM384.50 999.54h2.07v2.07h-2.07zM396.91 999.54h2.07v2.07h-2.07zM401.05 999.54h2.07v2.07h-2.07zM411.40 999.54h2.07v2.07h-2.07zM415.53 999.54h2.07v2.07h-2.07zM419.67 999.54h2.07v2.07h-2.07zM423.81 999.54h2.07v2.07h-2.07zM430.02 999.54h2.07v2.07h-2.07zM442.43 999.54h2.07v2.07h-2.07zM384.50 1001.61h14.48v2.07h-14.48zM401.05 1001.61h2.07v2.07h-2.07zM405.19 1001.61h2.07v2.07h-2.07zM409.33 1001.61h2.07v2.07h-2.07zM413.47 1001.61h2.07v2.07h-2.07zM417.60 1001.61h2.07v2.07h-2.07zM421.74 1001.61h2.07v2.07h-2.07zM425.88 1001.61h2.07v2.07h-2.07zM430.02 1001.61h14.48v2.07h-14.48zM401.05 1003.68h2.07v2.07h-2.07zM407.26 1003.68h4.14v2.07h-4.14zM417.60 1003.68h2.07v2.07h-2.07zM390.71 1005.75h4.14v2.07h-4.14zM396.91 1005.75h2.07v2.07h-2.07zM401.05 1005.75h10.34v2.07h-10.34zM413.47 1005.75h4.14v2.07h-4.14zM419.67 1005.75h2.07v2.07h-2.07zM423.81 1005.75h6.21v2.07h-6.21zM432.09 1005.75h6.21v2.07h-6.21zM440.36 1005.75h2.07v2.07h-2.07zM384.50 1007.82h2.07v2.07h-2.07zM388.64 1007.82h8.28v2.07h-8.28zM405.19 1007.82h2.07v2.07h-2.07zM411.40 1007.82h6.21v2.07h-6.21zM421.74 1007.82h8.28v2.07h-8.28zM432.09 1007.82h2.07v2.07h-2.07zM438.29 1007.82h4.14v2.07h-4.14zM392.78 1009.89h2.07v2.07h-2.07zM396.91 1009.89h8.28v2.07h-8.28zM407.26 1009.89h4.14v2.07h-4.14zM415.53 1009.89h2.07v2.07h-2.07zM421.74 1009.89h4.14v2.07h-4.14zM434.16 1009.89h6.21v2.07h-6.21zM442.43 1009.89h2.07v2.07h-2.07zM384.50 1011.96h8.28v2.07h-8.28zM403.12 1011.96h4.14v2.07h-4.14zM411.40 1011.96h14.48v2.07h-14.48zM430.02 1011.96h2.07v2.07h-2.07zM434.16 1011.96h8.28v2.07h-8.28zM390.71 1014.03h10.34v2.07h-10.34zM407.26 1014.03h2.07v2.07h-2.07zM411.40 1014.03h2.07v2.07h-2.07zM417.60 1014.03h4.14v2.07h-4.14zM427.95 1014.03h2.07v2.07h-2.07zM440.36 1014.03h2.07v2.07h-2.07zM388.64 1016.10h4.14v2.07h-4.14zM409.33 1016.10h2.07v2.07h-2.07zM415.53 1016.10h2.07v2.07h-2.07zM421.74 1016.10h4.14v2.07h-4.14zM427.95 1016.10h8.28v2.07h-8.28zM440.36 1016.10h4.14v2.07h-4.14zM392.78 1018.17h6.21v2.07h-6.21zM401.05 1018.17h4.14v2.07h-4.14zM411.40 1018.17h12.41v2.07h-12.41zM432.09 1018.17h4.14v2.07h-4.14zM438.29 1018.17h6.21v2.07h-6.21zM384.50 1020.23h6.21v2.07h-6.21zM394.84 1020.23h2.07v2.07h-2.07zM398.98 1020.23h6.21v2.07h-6.21zM407.26 1020.23h2.07v2.07h-2.07zM415.53 1020.23h2.07v2.07h-2.07zM425.88 1020.23h2.07v2.07h-2.07zM436.22 1020.23h4.14v2.07h-4.14zM442.43 1020.23h2.07v2.07h-2.07zM386.57 1022.30h2.07v2.07h-2.07zM392.78 1022.30h12.41v2.07h-12.41zM413.47 1022.30h4.14v2.07h-4.14zM423.81 1022.30h2.07v2.07h-2.07zM427.95 1022.30h2.07v2.07h-2.07zM438.29 1022.30h2.07v2.07h-2.07zM442.43 1022.30h2.07v2.07h-2.07zM390.71 1024.37h2.07v2.07h-2.07zM394.84 1024.37h2.07v2.07h-2.07zM398.98 1024.37h4.14v2.07h-4.14zM405.19 1024.37h2.07v2.07h-2.07zM413.47 1024.37h2.07v2.07h-2.07zM423.81 1024.37h2.07v2.07h-2.07zM427.95 1024.37h4.14v2.07h-4.14zM436.22 1024.37h4.14v2.07h-4.14zM442.43 1024.37h2.07v2.07h-2.07zM388.64 1026.44h6.21v2.07h-6.21zM396.91 1026.44h2.07v2.07h-2.07zM405.19 1026.44h4.14v2.07h-4.14zM413.47 1026.44h10.34v2.07h-10.34zM427.95 1026.44h8.28v2.07h-8.28zM438.29 1026.44h6.21v2.07h-6.21zM388.64 1028.51h4.14v2.07h-4.14zM394.84 1028.51h2.07v2.07h-2.07zM401.05 1028.51h6.21v2.07h-6.21zM409.33 1028.51h2.07v2.07h-2.07zM413.47 1028.51h2.07v2.07h-2.07zM423.81 1028.51h12.41v2.07h-12.41zM438.29 1028.51h2.07v2.07h-2.07zM442.43 1028.51h2.07v2.07h-2.07zM386.57 1030.58h6.21v2.07h-6.21zM396.91 1030.58h4.14v2.07h-4.14zM403.12 1030.58h8.28v2.07h-8.28zM413.47 1030.58h4.14v2.07h-4.14zM419.67 1030.58h2.07v2.07h-2.07zM423.81 1030.58h12.41v2.07h-12.41zM438.29 1030.58h2.07v2.07h-2.07zM442.43 1030.58h2.07v2.07h-2.07zM403.12 1032.65h2.07v2.07h-2.07zM411.40 1032.65h4.14v2.07h-4.14zM419.67 1032.65h4.14v2.07h-4.14zM425.88 1032.65h2.07v2.07h-2.07zM434.16 1032.65h2.07v2.07h-2.07zM440.36 1032.65h4.14v2.07h-4.14zM384.50 1034.72h14.48v2.07h-14.48zM403.12 1034.72h6.21v2.07h-6.21zM417.60 1034.72h2.07v2.07h-2.07zM423.81 1034.72h4.14v2.07h-4.14zM430.02 1034.72h2.07v2.07h-2.07zM434.16 1034.72h2.07v2.07h-2.07zM438.29 1034.72h2.07v2.07h-2.07zM442.43 1034.72h2.07v2.07h-2.07zM384.50 1036.79h2.07v2.07h-2.07zM396.91 1036.79h2.07v2.07h-2.07zM417.60 1036.79h2.07v2.07h-2.07zM423.81 1036.79h4.14v2.07h-4.14zM434.16 1036.79h4.14v2.07h-4.14zM440.36 1036.79h4.14v2.07h-4.14zM384.50 1038.86h2.07v2.07h-2.07zM388.64 1038.86h6.21v2.07h-6.21zM396.91 1038.86h2.07v2.07h-2.07zM411.40 1038.86h4.14v2.07h-4.14zM417.60 1038.86h2.07v2.07h-2.07zM421.74 1038.86h2.07v2.07h-2.07zM425.88 1038.86h14.48v2.07h-14.48zM442.43 1038.86h2.07v2.07h-2.07zM384.50 1040.92h2.07v2.07h-2.07zM388.64 1040.92h6.21v2.07h-6.21zM396.91 1040.92h2.07v2.07h-2.07zM401.05 1040.92h4.14v2.07h-4.14zM407.26 1040.92h4.14v2.07h-4.14zM415.53 1040.92h10.34v2.07h-10.34zM427.95 1040.92h2.07v2.07h-2.07zM434.16 1040.92h2.07v2.07h-2.07zM438.29 1040.92h2.07v2.07h-2.07zM442.43 1040.92h2.07v2.07h-2.07zM384.50 1042.99h2.07v2.07h-2.07zM388.64 1042.99h6.21v2.07h-6.21zM396.91 1042.99h2.07v2.07h-2.07zM401.05 1042.99h2.07v2.07h-2.07zM405.19 1042.99h2.07v2.07h-2.07zM409.33 1042.99h4.14v2.07h-4.14zM415.53 1042.99h4.14v2.07h-4.14zM425.88 1042.99h2.07v2.07h-2.07zM430.02 1042.99h10.34v2.07h-10.34zM384.50 1045.06h2.07v2.07h-2.07zM396.91 1045.06h2.07v2.07h-2.07zM403.12 1045.06h8.28v2.07h-8.28zM413.47 1045.06h4.14v2.07h-4.14zM423.81 1045.06h10.34v2.07h-10.34zM438.29 1045.06h6.21v2.07h-6.21zM384.50 1047.13h14.48v2.07h-14.48zM405.19 1047.13h2.07v2.07h-2.07zM411.40 1047.13h4.14v2.07h-4.14zM417.60 1047.13h4.14v2.07h-4.14zM423.81 1047.13h12.41v2.07h-12.41zM442.43 1047.13h2.07v2.07h-2.07z"/>
<text x="472.8" y="974.4" font-family="Liberation Sans" font-size="17.0" font-weight="bold" fill="#111" textLength="60.3" lengthAdjust="spacingAndGlyphs">756057</text>
<path fill="#111" d="M473.60 989.20h14.48v2.07h-14.48zM490.15 989.20h2.07v2.07h-2.07zM494.29 989.20h2.07v2.07h-2.07zM498.43 989.20h10.34v2.07h-10.34zM512.91 989.20h2.07v2.07h-2.07zM519.12 989.20h14.48v2.07h-14.48zM473.60 991.27h2.07v2.07h-2.07zM486.01 991.27h2.07v2.07h-2.07zM512.91 991.27h4.14v2.07h-4.14zM519.12 991.27h2.07v2.07h-2.07zM531.53 991.27h2.07v2.07h-2.07zM473.60 993.34h2.07v2.07h-2.07zM477.74 993.34h6.21v2.07h-6.21zM486.01 993.34h2.07v2.07h-2.07zM496.36 993.34h2.07v2.07h-2.07zM500.50 993.34h2.07v2.07h-2.07zM504.63 993.34h4.14v2.07h-4.14zM510.84 993.34h4.14v2.07h-4.14zM519.12 993.34h2.07v2.07h-2.07zM523.26 993.34h6.21v2.07h-6.21zM531.53 993.34h2.07v2.07h-2.07zM473.60 995.41h2.07v2.07h-2.07zM477.74 995.41h6.21v2.07h-6.21zM486.01 995.41h2.07v2.07h-2.07zM492.22 995.41h2.07v2.07h-2.07zM500.50 995.41h6.21v2.07h-6.21zM512.91 995.41h2.07v2.07h-2.07zM519.12 995.41h2.07v2.07h-2.07zM523.26 995.41h6.21v2.07h-6.21zM531.53 995.41h2.07v2.07h-2.07zM473.60 997.48h2.07v2.07h-2.07zM477.74 997.48h6.21v2.07h-6.21zM486.01 997.48h2.07v2.07h-2.07zM492.22 997.48h2.07v2.07h-2.07zM498.43 997.48h2.07v2.07h-2.07zM504.63 997.48h2.07v2.07h-2.07zM508.77 997.48h8.28v2.07h-8.28zM519.12 997.48h2.07v2.07h-2.07zM523.26 997.48h6.21v2.07h-6.21zM531.53 997.48h2.07v2.07h-2.07zM473.60 999.54h2.07v2.07h-2.07zM486.01 999.54h2.07v2.07h-2.07zM490.15 999.54h6.21v2.07h-6.21zM502.57 999.54h2.07v2.07h-2.07zM508.77 999.54h2.07v2.07h-2.07zM514.98 999.54h2.07v2.07h-2.07zM519.12 999.54h2.07v2.07h-2.07zM531.53 999.54h2.07v2.07h-2.07zM473.60 1001.61h14.48v2.07h-14.48zM490.15 1001.61h2.07v2.07h-2.07zM494.29 1001.61h2.07v2.07h-2.07zM498.43 1001.61h2.07v2.07h-2.07zM502.57 1001.61h2.07v2.07h-2.07zM506.70 1001.61h2.07v2.07h-2.07zM510.84 1001.61h2.07v2.07h-2.07zM514.98 1001.61h2.07v2.07h-2.07zM519.12 1001.61h14.48v2.07h-14.48zM492.22 1003.68h8.28v2.07h-8.28zM502.57 1003.68h8.28v2.07h-8.28zM473.60 1005.75h10.34v2.07h-10.34zM486.01 1005.75h2.07v2.07h-2.07zM492.22 1005.75h8.28v2.07h-8.28zM506.70 1005.75h2.07v2.07h-2.07zM510.84 1005.75h6.21v2.07h-6.21zM525.32 1005.75h2.07v2.07h-2.07zM529.46 1005.75h4.14v2.07h-4.14zM473.60 1007.82h6.21v2.07h-6.21zM481.88 1007.82h4.14v2.07h-4.14zM492.22 1007.82h8.28v2.07h-8.28zM508.77 1007.82h2.07v2.07h-2.07zM512.91 1007.82h2.07v2.07h-2.07zM519.12 1007.82h4.14v2.07h-4.14zM525.32 1007.82h4.14v2.07h-4.14zM477.74 1009.89h10.34v2.07h-10.34zM498.43 1009.89h2.07v2.07h-2.07zM502.57 1009.89h2.07v2.07h-2.07zM508.77 1009.89h10.34v2.07h-10.34zM523.26 1009.89h2.07v2.07h-2.07zM527.39 1009.89h2.07v2.07h-2.07zM475.67 1011.96h4.14v2.07h-4.14zM490.15 1011.96h2.07v2.07h-2.07zM494.29 1011.96h2.07v2.07h-2.07zM500.50 1011.96h4.14v2.07h-4.14zM517.05 1011.96h2.07v2.07h-2.07zM521.19 1011.96h4.14v2.07h-4.14zM531.53 1011.96h2.07v2.07h-2.07zM475.67 1014.03h4.14v2.07h-4.14zM483.94 1014.03h4.14v2.07h-4.14zM492.22 1014.03h4.14v2.07h-4.14zM498.43 1014.03h10.34v2.07h-10.34zM514.98 1014.03h10.34v2.07h-10.34zM473.60 1016.10h2.07v2.07h-2.07zM494.29 1016.10h2.07v2.07h-2.07zM498.43 1016.10h4.14v2.07h-4.14zM510.84 1016.10h2.07v2.07h-2.07zM514.98 1016.10h2.07v2.07h-2.07zM521.19 1016.10h4.14v2.07h-4.14zM527.39 1016.10h4.14v2.07h-4.14zM473.60 1018.17h2.07v2.07h-2.07zM479.81 1018.17h2.07v2.07h-2.07zM483.94 1018.17h6.21v2.07h-6.21zM492.22 1018.17h12.41v2.07h-12.41zM508.77 1018.17h8.28v2.07h-8.28zM519.12 1018.17h2.07v2.07h-2.07zM523.26 1018.17h2.07v2.07h-2.07zM477.74 1020.23h4.14v2.07h-4.14zM483.94 1020.23h2.07v2.07h-2.07zM492.22 1020.23h12.41v2.07h-12.41zM506.70 1020.23h2.07v2.07h-2.07zM512.91 1020.23h2.07v2.07h-2.07zM519.12 1020.23h2.07v2.07h-2.07zM523.26 1020.23h2.07v2.07h-2.07zM527.39 1020.23h2.07v2.07h-2.07zM531.53 1020.23h2.07v2.07h-2.07zM475.67 1022.30h2.07v2.07h-2.07zM479.81 1022.30h4.14v2.07h-4.14zM486.01 1022.30h2.07v2.07h-2.07zM490.15 1022.30h2.07v2.07h-2.07zM498.43 1022.30h4.14v2.07h-4.14zM508.77 1022.30h10.34v2.07h-10.34zM521.19 1022.30h2.07v2.07h-2.07zM525.32 1022.30h8.28v2.07h-8.28zM475.67 1024.37h2.07v2.07h-2.07zM479.81 1024.37h2.07v2.07h-2.07zM483.94 1024.37h2.07v2.07h-2.07zM488.08 1024.37h4.14v2.07h-4.14zM498.43 1024.37h2.07v2.07h-2.07zM506.70 1024.37h4.14v2.07h-4.14zM512.91 1024.37h2.07v2.07h-2.07zM517.05 1024.37h6.21v2.07h-6.21zM531.53 1024.37h2.07v2.07h-2.07zM473.60 1026.44h2.07v2.07h-2.07zM477.74 1026.44h2.07v2.07h-2.07zM483.94 1026.44h4.14v2.07h-4.14zM492.22 1026.44h6.21v2.07h-6.21zM500.50 1026.44h6.21v2.07h-6.21zM514.98 1026.44h2.07v2.07h-2.07zM521.19 1026.44h12.41v2.07h-12.41zM479.81 1028.51h6.21v2.07h-6.21zM488.08 1028.51h2.07v2.07h-2.07zM496.36 1028.51h2.07v2.07h-2.07zM500.50 1028.51h2.07v2.07h-2.07zM504.63 1028.51h4.14v2.07h-4.14zM510.84 1028.51h2.07v2.07h-2.07zM517.05 1028.51h14.48v2.07h-14.48zM473.60 1030.58h2.07v2.07h-2.07zM477.74 1030.58h4.14v2.07h-4.14zM486.01 1030.58h2.07v2.07h-2.07zM490.15 1030.58h2.07v2.07h-2.07zM498.43 1030.58h2.07v2.07h-2.07zM506.70 1030.58h2.07v2.07h-2.07zM510.84 1030.58h16.55v2.07h-16.55zM529.46 1030.58h2.07v2.07h-2.07zM490.15 1032.65h14.48v2.07h-14.48zM506.70 1032.65h2.07v2.07h-2.07zM514.98 1032.65h2.07v2.07h-2.07zM523.26 1032.65h6.21v2.07h-6.21zM531.53 1032.65h2.07v2.07h-2.07zM473.60 1034.72h14.48v2.07h-14.48zM490.15 1034.72h4.14v2.07h-4.14zM502.57 1034.72h2.07v2.07h-2.07zM508.77 1034.72h8.28v2.07h-8.28zM519.12 1034.72h2.07v2.07h-2.07zM523.26 1034.72h4.14v2.07h-4.14zM529.46 1034.72h4.14v2.07h-4.14zM473.60 1036.79h2.07v2.07h-2.07zM486.01 1036.79h2.07v2.07h-2.07zM492.22 1036.79h6.21v2.07h-6.21zM500.50 1036.79h4.14v2.07h-4.14zM506.70 1036.79h2.07v2.07h-2.07zM510.84 1036.79h6.21v2.07h-6.21zM523.26 1036.79h2.07v2.07h-2.07zM527.39 1036.79h6.21v2.07h-6.21zM473.60 1038.86h2.07v2.07h-2.07zM477.74 1038.86h6.21v2.07h-6.21zM486.01 1038.86h2.07v2.07h-2.07zM492.22 1038.86h4.14v2.07h-4.14zM498.43 1038.86h2.07v2.07h-2.07zM506.70 1038.86h6.21v2.07h-6.21zM514.98 1038.86h14.48v2.07h-14.48zM473.60 1040.92h2.07v2.07h-2.07zM477.74 1040.92h6.21v2.07h-6.21zM486.01 1040.92h2.07v2.07h-2.07zM492.22 1040.92h2.07v2.07h-2.07zM496.36 1040.92h2.07v2.07h-2.07zM500.50 1040.92h2.07v2.07h-2.07zM506.70 1040.92h2.07v2.07h-2.07zM510.84 1040.92h2.07v2.07h-2.07zM514.98 1040.92h6.21v2.07h-6.21zM523.26 1040.92h2.07v2.07h-2.07zM531.53 1040.92h2.07v2.07h-2.07zM473.60 1042.99h2.07v2.07h-2.07zM477.74 1042.99h6.21v2.07h-6.21zM486.01 1042.99h2.07v2.07h-2.07zM490.15 1042.99h6.21v2.07h-6.21zM502.57 1042.99h6.21v2.07h-6.21zM510.84 1042.99h2.07v2.07h-2.07zM519.12 1042.99h14.48v2.07h-14.48zM473.60 1045.06h2.07v2.07h-2.07zM486.01 1045.06h2.07v2.07h-2.07zM492.22 1045.06h6.21v2.07h-6.21zM500.50 1045.06h10.34v2.07h-10.34zM514.98 1045.06h4.14v2.07h-4.14zM521.19 1045.06h2.07v2.07h-2.07zM527.39 1045.06h6.21v2.07h-6.21zM473.60 1047.13h14.48v2.07h-14.48zM492.22 1047.13h8.28v2.07h-8.28zM508.77 1047.13h4.14v2.07h-4.14zM514.98 1047.13h2.07v2.07h-2.07zM519.12 1047.13h2.07v2.07h-2.07zM523.26 1047.13h6.21v2.07h-6.21z"/>
<text x="561.8999999999999" y="974.4" font-family="Liberation Sans" font-size="17.0" font-weight="bold" fill="#111" textLength="60.3" lengthAdjust="spacingAndGlyphs">756064</text>
<path fill="#111" d="M562.70 989.20h14.48v2.07h-14.48zM579.25 989.20h2.07v2.07h-2.07zM583.39 989.20h4.14v2.07h-4.14zM593.73 989.20h12.41v2.07h-12.41zM608.22 989.20h14.48v2.07h-14.48zM562.70 991.27h2.07v2.07h-2.07zM575.11 991.27h2.07v2.07h-2.07zM579.25 991.27h6.21v2.07h-6.21zM587.53 991.27h8.28v2.07h-8.28zM608.22 991.27h2.07v2.07h-2.07zM620.63 991.27h2.07v2.07h-2.07zM562.70 993.34h2.07v2.07h-2.07zM566.84 993.34h6.21v2.07h-6.21zM575.11 993.34h2.07v2.07h-2.07zM581.32 993.34h2.07v2.07h-2.07zM589.60 993.34h2.07v2.07h-2.07zM595.80 993.34h6.21v2.07h-6.21zM608.22 993.34h2.07v2.07h-2.07zM612.36 993.34h6.21v2.07h-6.21zM620.63 993.34h2.07v2.07h-2.07zM562.70 995.41h2.07v2.07h-2.07zM566.84 995.41h6.21v2.07h-6.21zM575.11 995.41h2.07v2.07h-2.07zM579.25 995.41h2.07v2.07h-2.07zM583.39 995.41h4.14v2.07h-4.14zM595.80 995.41h2.07v2.07h-2.07zM608.22 995.41h2.07v2.07h-2.07zM612.36 995.41h6.21v2.07h-6.21zM620.63 995.41h2.07v2.07h-2.07zM562.70 997.48h2.07v2.07h-2.07zM566.84 997.48h6.21v2.07h-6.21zM575.11 997.48h2.07v2.07h-2.07zM581.32 997.48h4.14v2.07h-4.14zM587.53 997.48h2.07v2.07h-2.07zM591.67 997.48h4.14v2.07h-4.14zM597.87 997.48h2.07v2.07h-2.07zM602.01 997.48h2.07v2.07h-2.07zM608.22 997.48h2.07v2.07h-2.07zM612.36 997.48h6.21v2.07h-6.21zM620.63 997.48h2.07v2.07h-2.07zM562.70 999.54h2.07v2.07h-2.07zM575.11 999.54h2.07v2.07h-2.07zM583.39 999.54h2.07v2.07h-2.07zM587.53 999.54h12.41v2.07h-12.41zM608.22 999.54h2.07v2.07h-2.07zM620.63 999.54h2.07v2.07h-2.07zM562.70 1001.61h14.48v2.07h-14.48zM579.25 1001.61h2.07v2.07h-2.07zM583.39 1001.61h2.07v2.07h-2.07zM587.53 1001.61h2.07v2.07h-2.07zM591.67 1001.61h2.07v2.07h-2.07zM595.80 1001.61h2.07v2.07h-2.07zM599.94 1001.61h2.07v2.07h-2.07zM604.08 1001.61h2.07v2.07h-2.07zM608.22 1001.61h14.48v2.07h-14.48zM579.25 1003.68h2.07v2.07h-2.07zM583.39 1003.68h4.14v2.07h-4.14zM589.60 1003.68h2.07v2.07h-2.07zM593.73 1003.68h2.07v2.07h-2.07zM597.87 1003.68h2.07v2.07h-2.07zM562.70 1005.75h2.07v2.07h-2.07zM573.04 1005.75h12.41v2.07h-12.41zM589.60 1005.75h4.14v2.07h-4.14zM604.08 1005.75h4.14v2.07h-4.14zM612.36 1005.75h2.07v2.07h-2.07zM620.63 1005.75h2.07v2.07h-2.07zM562.70 1007.82h8.28v2.07h-8.28zM573.04 1007.82h2.07v2.07h-2.07zM577.18 1007.82h2.07v2.07h-2.07zM581.32 1007.82h2.07v2.07h-2.07zM585.46 1007.82h2.07v2.07h-2.07zM589.60 1007.82h2.07v2.07h-2.07zM597.87 1007.82h6.21v2.07h-6.21zM608.22 1007.82h4.14v2.07h-4.14zM620.63 1007.82h2.07v2.07h-2.07zM562.70 1009.89h6.21v2.07h-6.21zM573.04 1009.89h6.21v2.07h-6.21zM581.32 1009.89h4.14v2.07h-4.14zM599.94 1009.89h2.07v2.07h-2.07zM604.08 1009.89h6.21v2.07h-6.21zM612.36 1009.89h2.07v2.07h-2.07zM616.49 1009.89h2.07v2.07h-2.07zM568.91 1011.96h6.21v2.07h-6.21zM585.46 1011.96h4.14v2.07h-4.14zM591.67 1011.96h2.07v2.07h-2.07zM597.87 1011.96h2.07v2.07h-2.07zM602.01 1011.96h2.07v2.07h-2.07zM606.15 1011.96h2.07v2.07h-2.07zM620.63 1011.96h2.07v2.07h-2.07zM566.84 1014.03h10.34v2.07h-10.34zM579.25 1014.03h4.14v2.07h-4.14zM587.53 1014.03h8.28v2.07h-8.28zM597.87 1014.03h2.07v2.07h-2.07zM602.01 1014.03h4.14v2.07h-4.14zM608.22 1014.03h2.07v2.07h-2.07zM612.36 1014.03h10.34v2.07h-10.34zM564.77 1016.10h10.34v2.07h-10.34zM579.25 1016.10h2.07v2.07h-2.07zM587.53 1016.10h6.21v2.07h-6.21zM595.80 1016.10h4.14v2.07h-4.14zM602.01 1016.10h4.14v2.07h-4.14zM608.22 1016.10h2.07v2.07h-2.07zM612.36 1016.10h4.14v2.07h-4.14zM618.56 1016.10h2.07v2.07h-2.07zM562.70 1018.17h2.07v2.07h-2.07zM566.84 1018.17h6.21v2.07h-6.21zM575.11 1018.17h2.07v2.07h-2.07zM579.25 1018.17h2.07v2.07h-2.07zM583.39 1018.17h2.07v2.07h-2.07zM587.53 1018.17h6.21v2.07h-6.21zM604.08 1018.17h2.07v2.07h-2.07zM608.22 1018.17h6.21v2.07h-6.21zM564.77 1020.23h2.07v2.07h-2.07zM570.98 1020.23h2.07v2.07h-2.07zM579.25 1020.23h2.07v2.07h-2.07zM587.53 1020.23h4.14v2.07h-4.14zM595.80 1020.23h2.07v2.07h-2.07zM599.94 1020.23h2.07v2.07h-2.07zM606.15 1020.23h4.14v2.07h-4.14zM612.36 1020.23h2.07v2.07h-2.07zM620.63 1020.23h2.07v2.07h-2.07zM568.91 1022.30h2.07v2.07h-2.07zM575.11 1022.30h6.21v2.07h-6.21zM589.60 1022.30h2.07v2.07h-2.07zM599.94 1022.30h2.07v2.07h-2.07zM604.08 1022.30h6.21v2.07h-6.21zM612.36 1022.30h2.07v2.07h-2.07zM616.49 1022.30h2.07v2.07h-2.07zM562.70 1024.37h2.07v2.07h-2.07zM577.18 1024.37h2.07v2.07h-2.07zM581.32 1024.37h6.21v2.07h-6.21zM597.87 1024.37h4.14v2.07h-4.14zM604.08 1024.37h4.14v2.07h-4.14zM612.36 1024.37h6.21v2.07h-6.21zM620.63 1024.37h2.07v2.07h-2.07zM564.77 1026.44h6.21v2.07h-6.21zM573.04 1026.44h4.14v2.07h-4.14zM581.32 1026.44h4.14v2.07h-4.14zM587.53 1026.44h2.07v2.07h-2.07zM599.94 1026.44h2.07v2.07h-2.07zM604.08 1026.44h2.07v2.07h-2.07zM612.36 1026.44h2.07v2.07h-2.07zM616.49 1026.44h4.14v2.07h-4.14zM564.77 1028.51h2.07v2.07h-2.07zM568.91 1028.51h2.07v2.07h-2.07zM577.18 1028.51h8.28v2.07h-8.28zM591.67 1028.51h6.21v2.07h-6.21zM599.94 1028.51h2.07v2.07h-2.07zM604.08 1028.51h6.21v2.07h-6.21zM612.36 1028.51h6.21v2.07h-6.21zM570.98 1030.58h2.07v2.07h-2.07zM575.11 1030.58h6.21v2.07h-6.21zM583.39 1030.58h2.07v2.07h-2.07zM591.67 1030.58h6.21v2.07h-6.21zM599.94 1030.58h2.07v2.07h-2.07zM604.08 1030.58h14.48v2.07h-14.48zM579.25 1032.65h4.14v2.07h-4.14zM587.53 1032.65h4.14v2.07h-4.14zM593.73 1032.65h8.28v2.07h-8.28zM604.08 1032.65h2.07v2.07h-2.07zM612.36 1032.65h2.07v2.07h-2.07zM620.63 1032.65h2.07v2.07h-2.07zM562.70 1034.72h14.48v2.07h-14.48zM579.25 1034.72h4.14v2.07h-4.14zM585.46 1034.72h8.28v2.07h-8.28zM595.80 1034.72h6.21v2.07h-6.21zM604.08 1034.72h2.07v2.07h-2.07zM608.22 1034.72h2.07v2.07h-2.07zM612.36 1034.72h2.07v2.07h-2.07zM616.49 1034.72h2.07v2.07h-2.07zM620.63 1034.72h2.07v2.07h-2.07zM562.70 1036.79h2.07v2.07h-2.07zM575.11 1036.79h2.07v2.07h-2.07zM579.25 1036.79h4.14v2.07h-4.14zM587.53 1036.79h4.14v2.07h-4.14zM595.80 1036.79h2.07v2.07h-2.07zM602.01 1036.79h4.14v2.07h-4.14zM612.36 1036.79h6.21v2.07h-6.21zM562.70 1038.86h2.07v2.07h-2.07zM566.84 1038.86h6.21v2.07h-6.21zM575.11 1038.86h2.07v2.07h-2.07zM581.32 1038.86h2.07v2.07h-2.07zM585.46 1038.86h4.14v2.07h-4.14zM591.67 1038.86h2.07v2.07h-2.07zM597.87 1038.86h2.07v2.07h-2.07zM604.08 1038.86h10.34v2.07h-10.34zM616.49 1038.86h6.21v2.07h-6.21zM562.70 1040.92h2.07v2.07h-2.07zM566.84 1040.92h6.21v2.07h-6.21zM575.11 1040.92h2.07v2.07h-2.07zM589.60 1040.92h4.14v2.07h-4.14zM595.80 1040.92h4.14v2.07h-4.14zM602.01 1040.92h2.07v2.07h-2.07zM608.22 1040.92h2.07v2.07h-2.07zM612.36 1040.92h2.07v2.07h-2.07zM616.49 1040.92h2.07v2.07h-2.07zM562.70 1042.99h2.07v2.07h-2.07zM566.84 1042.99h6.21v2.07h-6.21zM575.11 1042.99h2.07v2.07h-2.07zM579.25 1042.99h6.21v2.07h-6.21zM589.60 1042.99h2.07v2.07h-2.07zM593.73 1042.99h2.07v2.07h-2.07zM597.87 1042.99h4.14v2.07h-4.14zM604.08 1042.99h2.07v2.07h-2.07zM612.36 1042.99h4.14v2.07h-4.14zM620.63 1042.99h2.07v2.07h-2.07zM562.70 1045.06h2.07v2.07h-2.07zM575.11 1045.06h2.07v2.07h-2.07zM585.46 1045.06h6.21v2.07h-6.21zM593.73 1045.06h8.28v2.07h-8.28zM604.08 1045.06h4.14v2.07h-4.14zM610.29 1045.06h8.28v2.07h-8.28zM620.63 1045.06h2.07v2.07h-2.07zM562.70 1047.13h14.48v2.07h-14.48zM579.25 1047.13h4.14v2.07h-4.14zM585.46 1047.13h6.21v2.07h-6.21zM593.73 1047.13h2.07v2.07h-2.07zM597.87 1047.13h4.14v2.07h-4.14zM606.15 1047.13h2.07v2.07h-2.07zM612.36 1047.13h2.07v2.07h-2.07zM616.49 1047.13h2.07v2.07h-2.07z"/>
<text x="650.9999999999999" y="974.4" font-family="Liberation Sans" font-size="17.0" font-weight="bold" fill="#111" textLength="60.3" lengthAdjust="spacingAndGlyphs">756066</text>
<path fill="#111" d="M651.80 989.20h14.48v2.07h-14.48zM670.42 989.20h2.07v2.07h-2.07zM678.70 989.20h6.21v2.07h-6.21zM691.11 989.20h4.14v2.07h-4.14zM697.32 989.20h14.48v2.07h-14.48zM651.80 991.27h2.07v2.07h-2.07zM664.21 991.27h2.07v2.07h-2.07zM672.49 991.27h4.14v2.07h-4.14zM697.32 991.27h2.07v2.07h-2.07zM709.73 991.27h2.07v2.07h-2.07zM651.80 993.34h2.07v2.07h-2.07zM655.94 993.34h6.21v2.07h-6.21zM664.21 993.34h2.07v2.07h-2.07zM674.56 993.34h4.14v2.07h-4.14zM697.32 993.34h2.07v2.07h-2.07zM701.46 993.34h6.21v2.07h-6.21zM709.73 993.34h2.07v2.07h-2.07zM651.80 995.41h2.07v2.07h-2.07zM655.94 995.41h6.21v2.07h-6.21zM664.21 995.41h2.07v2.07h-2.07zM668.35 995.41h4.14v2.07h-4.14zM680.77 995.41h8.28v2.07h-8.28zM697.32 995.41h2.07v2.07h-2.07zM701.46 995.41h6.21v2.07h-6.21zM709.73 995.41h2.07v2.07h-2.07zM651.80 997.48h2.07v2.07h-2.07zM655.94 997.48h6.21v2.07h-6.21zM664.21 997.48h2.07v2.07h-2.07zM670.42 997.48h8.28v2.07h-8.28zM682.83 997.48h8.28v2.07h-8.28zM697.32 997.48h2.07v2.07h-2.07zM701.46 997.48h6.21v2.07h-6.21zM709.73 997.48h2.07v2.07h-2.07zM651.80 999.54h2.07v2.07h-2.07zM664.21 999.54h2.07v2.07h-2.07zM668.35 999.54h2.07v2.07h-2.07zM680.77 999.54h2.07v2.07h-2.07zM684.90 999.54h6.21v2.07h-6.21zM693.18 999.54h2.07v2.07h-2.07zM697.32 999.54h2.07v2.07h-2.07zM709.73 999.54h2.07v2.07h-2.07zM651.80 1001.61h14.48v2.07h-14.48zM668.35 1001.61h2.07v2.07h-2.07zM672.49 1001.61h2.07v2.07h-2.07zM676.63 1001.61h2.07v2.07h-2.07zM680.77 1001.61h2.07v2.07h-2.07zM684.90 1001.61h2.07v2.07h-2.07zM689.04 1001.61h2.07v2.07h-2.07zM693.18 1001.61h2.07v2.07h-2.07zM697.32 1001.61h14.48v2.07h-14.48zM672.49 1003.68h2.07v2.07h-2.07zM678.70 1003.68h2.07v2.07h-2.07zM682.83 1003.68h6.21v2.07h-6.21zM691.11 1003.68h4.14v2.07h-4.14zM653.87 1005.75h2.07v2.07h-2.07zM658.01 1005.75h2.07v2.07h-2.07zM664.21 1005.75h4.14v2.07h-4.14zM672.49 1005.75h8.28v2.07h-8.28zM682.83 1005.75h2.07v2.07h-2.07zM689.04 1005.75h4.14v2.07h-4.14zM697.32 1005.75h2.07v2.07h-2.07zM703.52 1005.75h2.07v2.07h-2.07zM707.66 1005.75h4.14v2.07h-4.14zM653.87 1007.82h2.07v2.07h-2.07zM658.01 1007.82h2.07v2.07h-2.07zM662.14 1007.82h2.07v2.07h-2.07zM666.28 1007.82h2.07v2.07h-2.07zM670.42 1007.82h2.07v2.07h-2.07zM674.56 1007.82h2.07v2.07h-2.07zM678.70 1007.82h2.07v2.07h-2.07zM682.83 1007.82h2.07v2.07h-2.07zM686.97 1007.82h4.14v2.07h-4.14zM699.39 1007.82h4.14v2.07h-4.14zM709.73 1007.82h2.07v2.07h-2.07zM651.80 1009.89h14.48v2.07h-14.48zM670.42 1009.89h2.07v2.07h-2.07zM674.56 1009.89h6.21v2.07h-6.21zM682.83 1009.89h2.07v2.07h-2.07zM686.97 1009.89h2.07v2.07h-2.07zM691.11 1009.89h4.14v2.07h-4.14zM701.46 1009.89h2.07v2.07h-2.07zM705.59 1009.89h2.07v2.07h-2.07zM709.73 1009.89h2.07v2.07h-2.07zM658.01 1011.96h4.14v2.07h-4.14zM666.28 1011.96h6.21v2.07h-6.21zM674.56 1011.96h2.07v2.07h-2.07zM678.70 1011.96h4.14v2.07h-4.14zM684.90 1011.96h2.07v2.07h-2.07zM693.18 1011.96h4.14v2.07h-4.14zM699.39 1011.96h2.07v2.07h-2.07zM703.52 1011.96h4.14v2.07h-4.14zM658.01 1014.03h10.34v2.07h-10.34zM670.42 1014.03h2.07v2.07h-2.07zM676.63 1014.03h4.14v2.07h-4.14zM684.90 1014.03h6.21v2.07h-6.21zM693.18 1014.03h4.14v2.07h-4.14zM701.46 1014.03h2.07v2.07h-2.07zM705.59 1014.03h6.21v2.07h-6.21zM653.87 1016.10h2.07v2.07h-2.07zM660.08 1016.10h4.14v2.07h-4.14zM672.49 1016.10h4.14v2.07h-4.14zM680.77 1016.10h4.14v2.07h-4.14zM686.97 1016.10h6.21v2.07h-6.21zM695.25 1016.10h2.07v2.07h-2.07zM699.39 1016.10h4.14v2.07h-4.14zM705.59 1016.10h4.14v2.07h-4.14zM653.87 1018.17h6.21v2.07h-6.21zM662.14 1018.17h6.21v2.07h-6.21zM672.49 1018.17h8.28v2.07h-8.28zM684.90 1018.17h2.07v2.07h-2.07zM691.11 1018.17h2.07v2.07h-2.07zM699.39 1018.17h2.07v2.07h-2.07zM703.52 1018.17h2.07v2.07h-2.07zM709.73 1018.17h2.07v2.07h-2.07zM651.80 1020.23h6.21v2.07h-6.21zM666.28 1020.23h2.07v2.07h-2.07zM674.56 1020.23h4.14v2.07h-4.14zM682.83 1020.23h2.07v2.07h-2.07zM693.18 1020.23h2.07v2.07h-2.07zM705.59 1020.23h2.07v2.07h-2.07zM709.73 1020.23h2.07v2.07h-2.07zM651.80 1022.30h6.21v2.07h-6.21zM664.21 1022.30h4.14v2.07h-4.14zM670.42 1022.30h10.34v2.07h-10.34zM684.90 1022.30h6.21v2.07h-6.21zM693.18 1022.30h6.21v2.07h-6.21zM703.52 1022.30h2.07v2.07h-2.07zM707.66 1022.30h2.07v2.07h-2.07zM651.80 1024.37h2.07v2.07h-2.07zM658.01 1024.37h6.21v2.07h-6.21zM676.63 1024.37h4.14v2.07h-4.14zM684.90 1024.37h2.07v2.07h-2.07zM689.04 1024.37h10.34v2.07h-10.34zM703.52 1024.37h2.07v2.07h-2.07zM709.73 1024.37h2.07v2.07h-2.07zM651.80 1026.44h4.14v2.07h-4.14zM658.01 1026.44h10.34v2.07h-10.34zM674.56 1026.44h2.07v2.07h-2.07zM678.70 1026.44h2.07v2.07h-2.07zM682.83 1026.44h4.14v2.07h-4.14zM691.11 1026.44h2.07v2.07h-2.07zM697.32 1026.44h6.21v2.07h-6.21zM705.59 1026.44h6.21v2.07h-6.21zM653.87 1028.51h2.07v2.07h-2.07zM658.01 1028.51h2.07v2.07h-2.07zM666.28 1028.51h4.14v2.07h-4.14zM674.56 1028.51h8.28v2.07h-8.28zM689.04 1028.51h2.07v2.07h-2.07zM699.39 1028.51h2.07v2.07h-2.07zM660.08 1030.58h8.28v2.07h-8.28zM670.42 1030.58h2.07v2.07h-2.07zM674.56 1030.58h2.07v2.07h-2.07zM682.83 1030.58h4.14v2.07h-4.14zM689.04 1030.58h16.55v2.07h-16.55zM668.35 1032.65h2.07v2.07h-2.07zM674.56 1032.65h6.21v2.07h-6.21zM684.90 1032.65h10.34v2.07h-10.34zM701.46 1032.65h4.14v2.07h-4.14zM651.80 1034.72h14.48v2.07h-14.48zM670.42 1034.72h4.14v2.07h-4.14zM676.63 1034.72h4.14v2.07h-4.14zM682.83 1034.72h2.07v2.07h-2.07zM689.04 1034.72h2.07v2.07h-2.07zM693.18 1034.72h2.07v2.07h-2.07zM697.32 1034.72h2.07v2.07h-2.07zM701.46 1034.72h8.28v2.07h-8.28zM651.80 1036.79h2.07v2.07h-2.07zM664.21 1036.79h2.07v2.07h-2.07zM670.42 1036.79h6.21v2.07h-6.21zM678.70 1036.79h2.07v2.07h-2.07zM684.90 1036.79h4.14v2.07h-4.14zM691.11 1036.79h4.14v2.07h-4.14zM701.46 1036.79h2.07v2.07h-2.07zM651.80 1038.86h2.07v2.07h-2.07zM655.94 1038.86h6.21v2.07h-6.21zM664.21 1038.86h2.07v2.07h-2.07zM670.42 1038.86h2.07v2.07h-2.07zM674.56 1038.86h2.07v2.07h-2.07zM682.83 1038.86h4.14v2.07h-4.14zM689.04 1038.86h2.07v2.07h-2.07zM693.18 1038.86h12.41v2.07h-12.41zM709.73 1038.86h2.07v2.07h-2.07zM651.80 1040.92h2.07v2.07h-2.07zM655.94 1040.92h6.21v2.07h-6.21zM664.21 1040.92h2.07v2.07h-2.07zM674.56 1040.92h2.07v2.07h-2.07zM682.83 1040.92h2.07v2.07h-2.07zM689.04 1040.92h2.07v2.07h-2.07zM703.52 1040.92h4.14v2.07h-4.14zM709.73 1040.92h2.07v2.07h-2.07zM651.80 1042.99h2.07v2.07h-2.07zM655.94 1042.99h6.21v2.07h-6.21zM664.21 1042.99h2.07v2.07h-2.07zM670.42 1042.99h4.14v2.07h-4.14zM676.63 1042.99h2.07v2.07h-2.07zM680.77 1042.99h4.14v2.07h-4.14zM686.97 1042.99h4.14v2.07h-4.14zM693.18 1042.99h2.07v2.07h-2.07zM697.32 1042.99h8.28v2.07h-8.28zM707.66 1042.99h2.07v2.07h-2.07zM651.80 1045.06h2.07v2.07h-2.07zM664.21 1045.06h2.07v2.07h-2.07zM676.63 1045.06h4.14v2.07h-4.14zM682.83 1045.06h2.07v2.07h-2.07zM689.04 1045.06h10.34v2.07h-10.34zM701.46 1045.06h2.07v2.07h-2.07zM705.59 1045.06h6.21v2.07h-6.21zM651.80 1047.13h14.48v2.07h-14.48zM672.49 1047.13h2.07v2.07h-2.07zM678.70 1047.13h4.14v2.07h-4.14zM684.90 1047.13h2.07v2.07h-2.07zM693.18 1047.13h6.21v2.07h-6.21zM701.46 1047.13h4.14v2.07h-4.14zM707.66 1047.13h4.14v2.07h-4.14z"/>
<text x="740.0999999999999" y="974.4" font-family="Liberation Sans" font-size="17.0" font-weight="bold" fill="#111" textLength="60.3" lengthAdjust="spacingAndGlyphs">756067</text>
<path fill="#111" d="M740.90 989.20h14.48v2.07h-14.48zM757.45 989.20h2.07v2.07h-2.07zM761.59 989.20h4.14v2.07h-4.14zM769.87 989.20h4.14v2.07h-4.14zM776.07 989.20h2.07v2.07h-2.07zM786.42 989.20h14.48v2.07h-14.48zM740.90 991.27h2.07v2.07h-2.07zM753.31 991.27h2.07v2.07h-2.07zM757.45 991.27h4.14v2.07h-4.14zM763.66 991.27h4.14v2.07h-4.14zM769.87 991.27h2.07v2.07h-2.07zM774.00 991.27h2.07v2.07h-2.07zM780.21 991.27h2.07v2.07h-2.07zM786.42 991.27h2.07v2.07h-2.07zM798.83 991.27h2.07v2.07h-2.07zM740.90 993.34h2.07v2.07h-2.07zM745.04 993.34h6.21v2.07h-6.21zM753.31 993.34h2.07v2.07h-2.07zM757.45 993.34h2.07v2.07h-2.07zM763.66 993.34h12.41v2.07h-12.41zM782.28 993.34h2.07v2.07h-2.07zM786.42 993.34h2.07v2.07h-2.07zM790.56 993.34h6.21v2.07h-6.21zM798.83 993.34h2.07v2.07h-2.07zM740.90 995.41h2.07v2.07h-2.07zM745.04 995.41h6.21v2.07h-6.21zM753.31 995.41h2.07v2.07h-2.07zM757.45 995.41h2.07v2.07h-2.07zM761.59 995.41h2.07v2.07h-2.07zM765.73 995.41h6.21v2.07h-6.21zM774.00 995.41h2.07v2.07h-2.07zM780.21 995.41h2.07v2.07h-2.07zM786.42 995.41h2.07v2.07h-2.07zM790.56 995.41h6.21v2.07h-6.21zM798.83 995.41h2.07v2.07h-2.07zM740.90 997.48h2.07v2.07h-2.07zM745.04 997.48h6.21v2.07h-6.21zM753.31 997.48h2.07v2.07h-2.07zM759.52 997.48h2.07v2.07h-2.07zM767.80 997.48h4.14v2.07h-4.14zM780.21 997.48h4.14v2.07h-4.14zM786.42 997.48h2.07v2.07h-2.07zM790.56 997.48h6.21v2.07h-6.21zM798.83 997.48h2.07v2.07h-2.07zM740.90 999.54h2.07v2.07h-2.07zM753.31 999.54h2.07v2.07h-2.07zM761.59 999.54h4.14v2.07h-4.14zM769.87 999.54h6.21v2.07h-6.21zM780.21 999.54h4.14v2.07h-4.14zM786.42 999.54h2.07v2.07h-2.07zM798.83 999.54h2.07v2.07h-2.07zM740.90 1001.61h14.48v2.07h-14.48zM757.45 1001.61h2.07v2.07h-2.07zM761.59 1001.61h2.07v2.07h-2.07zM765.73 1001.61h2.07v2.07h-2.07zM769.87 1001.61h2.07v2.07h-2.07zM774.00 1001.61h2.07v2.07h-2.07zM778.14 1001.61h2.07v2.07h-2.07zM782.28 1001.61h2.07v2.07h-2.07zM786.42 1001.61h14.48v2.07h-14.48zM759.52 1003.68h2.07v2.07h-2.07zM776.07 1003.68h4.14v2.07h-4.14zM742.97 1005.75h2.07v2.07h-2.07zM747.11 1005.75h12.41v2.07h-12.41zM761.59 1005.75h6.21v2.07h-6.21zM769.87 1005.75h2.07v2.07h-2.07zM774.00 1005.75h4.14v2.07h-4.14zM780.21 1005.75h2.07v2.07h-2.07zM784.35 1005.75h4.14v2.07h-4.14zM790.56 1005.75h2.07v2.07h-2.07zM794.69 1005.75h2.07v2.07h-2.07zM798.83 1005.75h2.07v2.07h-2.07zM742.97 1007.82h4.14v2.07h-4.14zM749.18 1007.82h2.07v2.07h-2.07zM757.45 1007.82h8.28v2.07h-8.28zM769.87 1007.82h2.07v2.07h-2.07zM780.21 1007.82h2.07v2.07h-2.07zM784.35 1007.82h6.21v2.07h-6.21zM792.62 1007.82h8.28v2.07h-8.28zM742.97 1009.89h4.14v2.07h-4.14zM749.18 1009.89h2.07v2.07h-2.07zM753.31 1009.89h4.14v2.07h-4.14zM761.59 1009.89h2.07v2.07h-2.07zM765.73 1009.89h10.34v2.07h-10.34zM784.35 1009.89h4.14v2.07h-4.14zM790.56 1009.89h2.07v2.07h-2.07zM794.69 1009.89h4.14v2.07h-4.14zM742.97 1011.96h2.07v2.07h-2.07zM755.38 1011.96h2.07v2.07h-2.07zM761.59 1011.96h12.41v2.07h-12.41zM776.07 1011.96h2.07v2.07h-2.07zM782.28 1011.96h4.14v2.07h-4.14zM788.49 1011.96h2.07v2.07h-2.07zM742.97 1014.03h2.07v2.07h-2.07zM749.18 1014.03h6.21v2.07h-6.21zM757.45 1014.03h6.21v2.07h-6.21zM765.73 1014.03h4.14v2.07h-4.14zM774.00 1014.03h2.07v2.07h-2.07zM782.28 1014.03h4.14v2.07h-4.14zM788.49 1014.03h2.07v2.07h-2.07zM792.62 1014.03h2.07v2.07h-2.07zM796.76 1014.03h2.07v2.07h-2.07zM747.11 1016.10h2.07v2.07h-2.07zM751.24 1016.10h2.07v2.07h-2.07zM757.45 1016.10h2.07v2.07h-2.07zM761.59 1016.10h8.28v2.07h-8.28zM776.07 1016.10h2.07v2.07h-2.07zM780.21 1016.10h8.28v2.07h-8.28zM790.56 1016.10h2.07v2.07h-2.07zM794.69 1016.10h2.07v2.07h-2.07zM747.11 1018.17h2.07v2.07h-2.07zM753.31 1018.17h4.14v2.07h-4.14zM763.66 1018.17h8.28v2.07h-8.28zM778.14 1018.17h8.28v2.07h-8.28zM794.69 1018.17h2.07v2.07h-2.07zM798.83 1018.17h2.07v2.07h-2.07zM745.04 1020.23h2.07v2.07h-2.07zM749.18 1020.23h2.07v2.07h-2.07zM757.45 1020.23h2.07v2.07h-2.07zM761.59 1020.23h4.14v2.07h-4.14zM771.93 1020.23h4.14v2.07h-4.14zM740.90 1022.30h2.07v2.07h-2.07zM747.11 1022.30h2.07v2.07h-2.07zM753.31 1022.30h2.07v2.07h-2.07zM761.59 1022.30h2.07v2.07h-2.07zM765.73 1022.30h2.07v2.07h-2.07zM769.87 1022.30h2.07v2.07h-2.07zM774.00 1022.30h2.07v2.07h-2.07zM780.21 1022.30h2.07v2.07h-2.07zM790.56 1022.30h4.14v2.07h-4.14zM798.83 1022.30h2.07v2.07h-2.07zM740.90 1024.37h2.07v2.07h-2.07zM745.04 1024.37h6.21v2.07h-6.21zM755.38 1024.37h2.07v2.07h-2.07zM769.87 1024.37h2.07v2.07h-2.07zM776.07 1024.37h2.07v2.07h-2.07zM790.56 1024.37h2.07v2.07h-2.07zM798.83 1024.37h2.07v2.07h-2.07zM742.97 1026.44h2.07v2.07h-2.07zM747.11 1026.44h2.07v2.07h-2.07zM753.31 1026.44h4.14v2.07h-4.14zM759.52 1026.44h6.21v2.07h-6.21zM771.93 1026.44h2.07v2.07h-2.07zM776.07 1026.44h4.14v2.07h-4.14zM782.28 1026.44h4.14v2.07h-4.14zM788.49 1026.44h4.14v2.07h-4.14zM798.83 1026.44h2.07v2.07h-2.07zM742.97 1028.51h2.07v2.07h-2.07zM749.18 1028.51h2.07v2.07h-2.07zM755.38 1028.51h2.07v2.07h-2.07zM761.59 1028.51h4.14v2.07h-4.14zM767.80 1028.51h2.07v2.07h-2.07zM771.93 1028.51h8.28v2.07h-8.28zM784.35 1028.51h4.14v2.07h-4.14zM792.62 1028.51h2.07v2.07h-2.07zM798.83 1028.51h2.07v2.07h-2.07zM745.04 1030.58h2.07v2.07h-2.07zM749.18 1030.58h2.07v2.07h-2.07zM753.31 1030.58h4.14v2.07h-4.14zM763.66 1030.58h6.21v2.07h-6.21zM774.00 1030.58h2.07v2.07h-2.07zM780.21 1030.58h16.55v2.07h-16.55zM761.59 1032.65h2.07v2.07h-2.07zM769.87 1032.65h4.14v2.07h-4.14zM776.07 1032.65h2.07v2.07h-2.07zM782.28 1032.65h2.07v2.07h-2.07zM790.56 1032.65h10.34v2.07h-10.34zM740.90 1034.72h14.48v2.07h-14.48zM757.45 1034.72h4.14v2.07h-4.14zM767.80 1034.72h2.07v2.07h-2.07zM782.28 1034.72h2.07v2.07h-2.07zM786.42 1034.72h2.07v2.07h-2.07zM790.56 1034.72h2.07v2.07h-2.07zM794.69 1034.72h4.14v2.07h-4.14zM740.90 1036.79h2.07v2.07h-2.07zM753.31 1036.79h2.07v2.07h-2.07zM757.45 1036.79h2.07v2.07h-2.07zM761.59 1036.79h2.07v2.07h-2.07zM771.93 1036.79h12.41v2.07h-12.41zM790.56 1036.79h4.14v2.07h-4.14zM796.76 1036.79h2.07v2.07h-2.07zM740.90 1038.86h2.07v2.07h-2.07zM745.04 1038.86h6.21v2.07h-6.21zM753.31 1038.86h2.07v2.07h-2.07zM759.52 1038.86h4.14v2.07h-4.14zM765.73 1038.86h2.07v2.07h-2.07zM778.14 1038.86h14.48v2.07h-14.48zM794.69 1038.86h6.21v2.07h-6.21zM740.90 1040.92h2.07v2.07h-2.07zM745.04 1040.92h6.21v2.07h-6.21zM753.31 1040.92h2.07v2.07h-2.07zM757.45 1040.92h8.28v2.07h-8.28zM767.80 1040.92h8.28v2.07h-8.28zM786.42 1040.92h6.21v2.07h-6.21zM794.69 1040.92h4.14v2.07h-4.14zM740.90 1042.99h2.07v2.07h-2.07zM745.04 1042.99h6.21v2.07h-6.21zM753.31 1042.99h2.07v2.07h-2.07zM761.59 1042.99h4.14v2.07h-4.14zM767.80 1042.99h4.14v2.07h-4.14zM780.21 1042.99h6.21v2.07h-6.21zM798.83 1042.99h2.07v2.07h-2.07zM740.90 1045.06h2.07v2.07h-2.07zM753.31 1045.06h2.07v2.07h-2.07zM759.52 1045.06h2.07v2.07h-2.07zM763.66 1045.06h4.14v2.07h-4.14zM769.87 1045.06h6.21v2.07h-6.21zM784.35 1045.06h4.14v2.07h-4.14zM794.69 1045.06h6.21v2.07h-6.21zM740.90 1047.13h14.48v2.07h-14.48zM759.52 1047.13h6.21v2.07h-6.21zM771.93 1047.13h2.07v2.07h-2.07zM776.07 1047.13h2.07v2.07h-2.07zM780.21 1047.13h2.07v2.07h-2.07zM784.35 1047.13h2.07v2.07h-2.07zM790.56 1047.13h6.21v2.07h-6.21z"/>
<rect x="93.40" y="461.40" width="57.10" height="15.20" fill="none" stroke="#231f20" stroke-width="1.1"/>
<line x1="93.40" y1="476.60" x2="150.50" y2="476.60" stroke="#231f20" stroke-width="2.0" stroke-linecap="butt"/>
<rect x="118.50" y="476.60" width="8.20" height="9.70" fill="none" stroke="#231f20" stroke-width="1.0"/>
<line x1="118.50" y1="486.30" x2="126.70" y2="486.30" stroke="#231f20" stroke-width="1.8" stroke-linecap="butt"/>
<line x1="121.60" y1="509.60" x2="121.60" y2="666.00" stroke="#231f20" stroke-width="1.0" stroke-linecap="butt"/>
<line x1="123.60" y1="509.60" x2="123.60" y2="666.00" stroke="#231f20" stroke-width="1.0" stroke-linecap="butt"/>
<line x1="106.00" y1="665.70" x2="106.00" y2="813.70" stroke="#231f20" stroke-width="2.0" stroke-linecap="butt"/>
<line x1="105.00" y1="665.70" x2="139.40" y2="665.70" stroke="#231f20" stroke-width="1.1" stroke-linecap="butt"/>
<line x1="107.00" y1="667.60" x2="137.40" y2="667.60" stroke="#231f20" stroke-width="1.1" stroke-linecap="butt"/>
<line x1="139.50" y1="665.70" x2="139.50" y2="813.70" stroke="#231f20" stroke-width="1.0" stroke-linecap="butt"/>
<line x1="137.20" y1="666.70" x2="137.20" y2="813.70" stroke="#231f20" stroke-width="0.9" stroke-linecap="butt"/>
<line x1="119.60" y1="666.70" x2="119.60" y2="711.00" stroke="#231f20" stroke-width="1.0" stroke-linecap="butt"/>
<line x1="125.40" y1="666.70" x2="125.40" y2="711.00" stroke="#231f20" stroke-width="0.9" stroke-linecap="butt"/>
<rect x="109.50" y="711.00" width="26.10" height="96.40" fill="none" stroke="#231f20" stroke-width="1.1"/>
<line x1="87.40" y1="527.00" x2="87.40" y2="568.10" stroke="#231f20" stroke-width="1.3" stroke-linecap="butt"/>
<path d="M84.30 566.10L90.50 566.10L87.40 583.60Z" fill="#231f20"/>
<line x1="342.60" y1="464.50" x2="342.60" y2="565.00" stroke="#231f20" stroke-width="1.0" stroke-linecap="butt"/>
<line x1="345.50" y1="464.50" x2="345.50" y2="565.00" stroke="#231f20" stroke-width="1.0" stroke-linecap="butt"/>
<line x1="328.00" y1="620.50" x2="328.00" y2="768.50" stroke="#231f20" stroke-width="2.0" stroke-linecap="butt"/>
<line x1="327.00" y1="620.50" x2="361.40" y2="620.50" stroke="#231f20" stroke-width="2.2" stroke-linecap="butt"/>
<line x1="361.50" y1="620.50" x2="361.50" y2="768.50" stroke="#231f20" stroke-width="1.0" stroke-linecap="butt"/>
<line x1="359.20" y1="621.50" x2="359.20" y2="768.50" stroke="#231f20" stroke-width="0.9" stroke-linecap="butt"/>
<line x1="341.60" y1="621.50" x2="341.60" y2="665.80" stroke="#231f20" stroke-width="1.0" stroke-linecap="butt"/>
<line x1="347.40" y1="621.50" x2="347.40" y2="665.80" stroke="#231f20" stroke-width="0.9" stroke-linecap="butt"/>
<rect x="331.50" y="665.80" width="26.10" height="96.40" fill="none" stroke="#231f20" stroke-width="1.1"/>
<rect x="341.50" y="564.40" width="5.80" height="56.00" fill="none" stroke="#231f20" stroke-width="0.9"/>
<line x1="341.30" y1="564.60" x2="347.70" y2="564.60" stroke="#231f20" stroke-width="1.8" stroke-linecap="butt"/>
<line x1="580.60" y1="479.70" x2="580.60" y2="514.00" stroke="#231f20" stroke-width="1.0" stroke-linecap="butt"/>
<line x1="583.80" y1="479.70" x2="583.80" y2="514.00" stroke="#231f20" stroke-width="1.0" stroke-linecap="butt"/>
<line x1="565.60" y1="636.00" x2="565.60" y2="784.00" stroke="#231f20" stroke-width="2.0" stroke-linecap="butt"/>
<line x1="564.60" y1="636.00" x2="599.00" y2="636.00" stroke="#231f20" stroke-width="2.2" stroke-linecap="butt"/>
<line x1="599.10" y1="636.00" x2="599.10" y2="784.00" stroke="#231f20" stroke-width="1.0" stroke-linecap="butt"/>
<line x1="596.80" y1="637.00" x2="596.80" y2="784.00" stroke="#231f20" stroke-width="0.9" stroke-linecap="butt"/>
<line x1="579.20" y1="637.00" x2="579.20" y2="681.30" stroke="#231f20" stroke-width="1.0" stroke-linecap="butt"/>
<line x1="585.00" y1="637.00" x2="585.00" y2="681.30" stroke="#231f20" stroke-width="0.9" stroke-linecap="butt"/>
<rect x="569.10" y="681.30" width="26.10" height="96.40" fill="none" stroke="#231f20" stroke-width="1.1"/>
<rect x="579.50" y="513.30" width="6.00" height="64.50" fill="none" stroke="#231f20" stroke-width="0.9"/>
<line x1="579.30" y1="513.50" x2="585.70" y2="513.50" stroke="#231f20" stroke-width="1.8" stroke-linecap="butt"/>
<line x1="580.60" y1="577.80" x2="580.60" y2="636.00" stroke="#231f20" stroke-width="1.0" stroke-linecap="butt"/>
<line x1="583.80" y1="577.80" x2="583.80" y2="636.00" stroke="#231f20" stroke-width="1.0" stroke-linecap="butt"/>
<line x1="610.60" y1="571.40" x2="610.60" y2="528.90" stroke="#231f20" stroke-width="1.3" stroke-linecap="butt"/>
<path d="M607.60 530.90L613.60 530.90L610.60 513.30Z" fill="#231f20"/>
<line x1="705.70" y1="472.90" x2="705.70" y2="646.00" stroke="#231f20" stroke-width="1.0" stroke-linecap="butt"/>
<line x1="708.50" y1="472.90" x2="708.50" y2="646.00" stroke="#231f20" stroke-width="1.0" stroke-linecap="butt"/>
<line x1="691.30" y1="492.90" x2="691.30" y2="640.00" stroke="#231f20" stroke-width="2.0" stroke-linecap="butt"/>
<line x1="690.30" y1="492.90" x2="724.60" y2="492.90" stroke="#231f20" stroke-width="2.2" stroke-linecap="butt"/>
<line x1="724.70" y1="492.90" x2="724.70" y2="640.00" stroke="#231f20" stroke-width="1.1" stroke-linecap="butt"/>
<line x1="722.30" y1="494.00" x2="722.30" y2="640.00" stroke="#231f20" stroke-width="1.0" stroke-linecap="butt"/>
<rect x="704.50" y="646.00" width="5.20" height="43.00" fill="none" stroke="#231f20" stroke-width="0.9"/>
<rect x="693.60" y="689.10" width="26.90" height="97.00" fill="none" stroke="#231f20" stroke-width="1.1"/>
<line x1="738.90" y1="600.00" x2="738.90" y2="560.40" stroke="#231f20" stroke-width="1.3" stroke-linecap="butt"/>
<path d="M735.90 562.40L741.90 562.40L738.90 544.80Z" fill="#231f20"/>
<path d="M341.30 599.60C341.30 599.60 346.35 599.42 348.10 599.60C349.85 599.78 351.00 600.18 351.80 600.70C352.60 601.22 353.07 602.03 352.90 602.70C352.73 603.37 351.90 604.28 350.80 604.70C349.70 605.12 347.65 604.90 346.30 605.20C344.95 605.50 343.57 606.47 342.70 606.50C341.83 606.53 341.33 606.55 341.10 605.40C340.87 604.25 340.13 600.57 341.30 599.60Z" fill="#fff"/>
<path d="M294.10 598.60C294.93 598.22 297.37 597.28 299.10 596.30C300.83 595.32 302.98 594.20 304.50 592.70C306.02 591.20 306.83 589.12 308.20 587.30C309.57 585.48 310.88 583.47 312.70 581.80C314.52 580.13 317.13 578.97 319.10 577.30C321.07 575.63 322.85 573.47 324.50 571.80C326.15 570.13 327.48 568.35 329.00 567.30C330.52 566.25 332.08 565.80 333.60 565.50C335.12 565.20 337.12 565.13 338.10 565.50C339.08 565.87 339.65 566.80 339.50 567.70C339.35 568.60 338.33 569.92 337.20 570.90C336.07 571.88 334.52 572.53 332.70 573.60C330.88 574.67 327.37 576.68 326.30 577.30" fill="none" stroke="#231f20" stroke-width="1.1700000000000002" stroke-linejoin="round" stroke-linecap="round"/>
<path d="M332.70 567.70C333.25 567.52 335.07 566.75 336.00 566.60C336.93 566.45 337.92 566.77 338.30 566.80" fill="none" stroke="#231f20" stroke-width="0.78" stroke-linejoin="round" stroke-linecap="round"/>
<path d="M326.30 577.30C327.67 577.05 332.08 576.18 334.50 575.80C336.92 575.42 339.75 575.13 340.80 575.00" fill="none" stroke="#231f20" stroke-width="1.04" stroke-linejoin="round" stroke-linecap="round"/>
<path d="M329.00 580.90C330.08 580.78 333.53 580.35 335.50 580.20C337.47 580.05 339.92 580.03 340.80 580.00" fill="none" stroke="#231f20" stroke-width="1.04" stroke-linejoin="round" stroke-linecap="round"/>
<path d="M330.40 585.40C331.25 585.33 333.77 585.07 335.50 585.00C337.23 584.93 339.92 585.00 340.80 585.00" fill="none" stroke="#231f20" stroke-width="1.04" stroke-linejoin="round" stroke-linecap="round"/>
<path d="M347.70 573.60C348.50 573.62 351.22 573.62 352.50 573.70C353.78 573.78 354.70 573.58 355.40 574.10C356.10 574.62 356.78 575.97 356.70 576.80C356.62 577.63 355.93 578.65 354.90 579.10C353.87 579.55 351.63 579.43 350.50 579.50C349.37 579.57 348.50 579.50 348.10 579.50" fill="none" stroke="#231f20" stroke-width="1.1700000000000002" stroke-linejoin="round" stroke-linecap="round"/>
<path d="M348.10 581.80C348.83 581.93 351.13 582.30 352.50 582.60C353.87 582.90 355.05 583.17 356.30 583.60C357.55 584.03 359.17 584.75 360.00 585.20C360.83 585.65 361.23 585.73 361.30 586.30C361.37 586.87 361.08 588.13 360.40 588.60C359.72 589.07 358.52 589.08 357.20 589.10C355.88 589.12 354.02 588.85 352.50 588.70C350.98 588.55 348.83 588.28 348.10 588.20" fill="none" stroke="#231f20" stroke-width="1.1700000000000002" stroke-linejoin="round" stroke-linecap="round"/>
<path d="M348.10 589.50C348.67 589.65 350.58 590.10 351.50 590.40C352.42 590.70 352.65 590.77 353.60 591.30C354.55 591.83 356.75 592.77 357.20 593.60C357.65 594.43 357.05 595.85 356.30 596.30C355.55 596.75 354.07 596.52 352.70 596.30C351.33 596.08 348.87 595.22 348.10 595.00" fill="none" stroke="#231f20" stroke-width="1.1700000000000002" stroke-linejoin="round" stroke-linecap="round"/>
<path d="M341.30 593.20C340.50 593.13 337.78 592.88 336.50 592.80C335.22 592.72 334.53 592.33 333.60 592.70C332.67 593.07 331.28 594.10 330.90 595.00C330.52 595.90 330.70 597.35 331.30 598.10C331.90 598.85 332.83 599.27 334.50 599.50C336.17 599.73 340.17 599.50 341.30 599.50" fill="none" stroke="#231f20" stroke-width="1.1700000000000002" stroke-linejoin="round" stroke-linecap="round"/>
<path d="M341.30 600.00C342.43 600.00 346.35 599.85 348.10 600.00C349.85 600.15 351.03 600.45 351.80 600.90C352.57 601.35 352.87 602.10 352.70 602.70C352.53 603.30 351.87 604.12 350.80 604.50C349.73 604.88 347.65 604.70 346.30 605.00C344.95 605.30 343.30 606.08 342.70 606.30" fill="none" stroke="#231f20" stroke-width="1.1700000000000002" stroke-linejoin="round" stroke-linecap="round"/>
<path d="M348.00 602.00C348.33 601.97 349.38 601.70 350.00 601.80C350.62 601.90 351.42 602.47 351.70 602.60" fill="none" stroke="#231f20" stroke-width="0.78" stroke-linejoin="round" stroke-linecap="round"/>
<path d="M300.90 613.10C301.65 612.57 303.88 610.95 305.40 609.90C306.92 608.85 308.33 607.25 310.00 606.80C311.67 606.35 313.28 606.68 315.40 607.20C317.52 607.72 320.27 609.45 322.70 609.90C325.13 610.35 327.73 610.20 330.00 609.90C332.27 609.60 334.33 608.77 336.30 608.10C338.27 607.43 340.43 606.50 341.80 605.90C343.17 605.30 344.05 604.73 344.50 604.50" fill="none" stroke="#231f20" stroke-width="1.1700000000000002" stroke-linejoin="round" stroke-linecap="round"/>
<path d="M579.30 548.50C579.30 548.50 584.35 548.32 586.10 548.50C587.85 548.68 589.00 549.08 589.80 549.60C590.60 550.12 591.07 550.93 590.90 551.60C590.73 552.27 589.90 553.18 588.80 553.60C587.70 554.02 585.65 553.80 584.30 554.10C582.95 554.40 581.57 555.37 580.70 555.40C579.83 555.43 579.33 555.45 579.10 554.30C578.87 553.15 578.13 549.47 579.30 548.50Z" fill="#fff"/>
<path d="M532.10 547.50C532.93 547.12 535.37 546.18 537.10 545.20C538.83 544.22 540.98 543.10 542.50 541.60C544.02 540.10 544.83 538.02 546.20 536.20C547.57 534.38 548.88 532.37 550.70 530.70C552.52 529.03 555.13 527.87 557.10 526.20C559.07 524.53 560.85 522.37 562.50 520.70C564.15 519.03 565.48 517.25 567.00 516.20C568.52 515.15 570.08 514.70 571.60 514.40C573.12 514.10 575.12 514.03 576.10 514.40C577.08 514.77 577.65 515.70 577.50 516.60C577.35 517.50 576.33 518.82 575.20 519.80C574.07 520.78 572.52 521.43 570.70 522.50C568.88 523.57 565.37 525.58 564.30 526.20" fill="none" stroke="#231f20" stroke-width="1.1700000000000002" stroke-linejoin="round" stroke-linecap="round"/>
<path d="M570.70 516.60C571.25 516.42 573.07 515.65 574.00 515.50C574.93 515.35 575.92 515.67 576.30 515.70" fill="none" stroke="#231f20" stroke-width="0.78" stroke-linejoin="round" stroke-linecap="round"/>
<path d="M564.30 526.20C565.67 525.95 570.08 525.08 572.50 524.70C574.92 524.32 577.75 524.03 578.80 523.90" fill="none" stroke="#231f20" stroke-width="1.04" stroke-linejoin="round" stroke-linecap="round"/>
<path d="M567.00 529.80C568.08 529.68 571.53 529.25 573.50 529.10C575.47 528.95 577.92 528.93 578.80 528.90" fill="none" stroke="#231f20" stroke-width="1.04" stroke-linejoin="round" stroke-linecap="round"/>
<path d="M568.40 534.30C569.25 534.23 571.77 533.97 573.50 533.90C575.23 533.83 577.92 533.90 578.80 533.90" fill="none" stroke="#231f20" stroke-width="1.04" stroke-linejoin="round" stroke-linecap="round"/>
<path d="M585.70 522.50C586.50 522.52 589.22 522.52 590.50 522.60C591.78 522.68 592.70 522.48 593.40 523.00C594.10 523.52 594.78 524.87 594.70 525.70C594.62 526.53 593.93 527.55 592.90 528.00C591.87 528.45 589.63 528.33 588.50 528.40C587.37 528.47 586.50 528.40 586.10 528.40" fill="none" stroke="#231f20" stroke-width="1.1700000000000002" stroke-linejoin="round" stroke-linecap="round"/>
<path d="M586.10 530.70C586.83 530.83 589.13 531.20 590.50 531.50C591.87 531.80 593.05 532.07 594.30 532.50C595.55 532.93 597.17 533.65 598.00 534.10C598.83 534.55 599.23 534.63 599.30 535.20C599.37 535.77 599.08 537.03 598.40 537.50C597.72 537.97 596.52 537.98 595.20 538.00C593.88 538.02 592.02 537.75 590.50 537.60C588.98 537.45 586.83 537.18 586.10 537.10" fill="none" stroke="#231f20" stroke-width="1.1700000000000002" stroke-linejoin="round" stroke-linecap="round"/>
<path d="M586.10 538.40C586.67 538.55 588.58 539.00 589.50 539.30C590.42 539.60 590.65 539.67 591.60 540.20C592.55 540.73 594.75 541.67 595.20 542.50C595.65 543.33 595.05 544.75 594.30 545.20C593.55 545.65 592.07 545.42 590.70 545.20C589.33 544.98 586.87 544.12 586.10 543.90" fill="none" stroke="#231f20" stroke-width="1.1700000000000002" stroke-linejoin="round" stroke-linecap="round"/>
<path d="M579.30 542.10C578.50 542.03 575.78 541.78 574.50 541.70C573.22 541.62 572.53 541.23 571.60 541.60C570.67 541.97 569.28 543.00 568.90 543.90C568.52 544.80 568.70 546.25 569.30 547.00C569.90 547.75 570.83 548.17 572.50 548.40C574.17 548.63 578.17 548.40 579.30 548.40" fill="none" stroke="#231f20" stroke-width="1.1700000000000002" stroke-linejoin="round" stroke-linecap="round"/>
<path d="M579.30 548.90C580.43 548.90 584.35 548.75 586.10 548.90C587.85 549.05 589.03 549.35 589.80 549.80C590.57 550.25 590.87 551.00 590.70 551.60C590.53 552.20 589.87 553.02 588.80 553.40C587.73 553.78 585.65 553.60 584.30 553.90C582.95 554.20 581.30 554.98 580.70 555.20" fill="none" stroke="#231f20" stroke-width="1.1700000000000002" stroke-linejoin="round" stroke-linecap="round"/>
<path d="M586.00 550.90C586.33 550.87 587.38 550.60 588.00 550.70C588.62 550.80 589.42 551.37 589.70 551.50" fill="none" stroke="#231f20" stroke-width="0.78" stroke-linejoin="round" stroke-linecap="round"/>
<path d="M538.90 562.00C539.65 561.47 541.88 559.85 543.40 558.80C544.92 557.75 546.33 556.15 548.00 555.70C549.67 555.25 551.28 555.58 553.40 556.10C555.52 556.62 558.27 558.35 560.70 558.80C563.13 559.25 565.73 559.10 568.00 558.80C570.27 558.50 572.33 557.67 574.30 557.00C576.27 556.33 578.43 555.40 579.80 554.80C581.17 554.20 582.05 553.63 582.50 553.40" fill="none" stroke="#231f20" stroke-width="1.1700000000000002" stroke-linejoin="round" stroke-linecap="round"/>
<path d="M327.50 783.50C328.00 782.78 329.02 780.55 330.50 779.20C331.98 777.85 334.15 776.45 336.40 775.40C338.65 774.35 341.03 773.40 344.00 772.90C346.97 772.40 351.08 772.55 354.20 772.40C357.32 772.25 360.80 772.42 362.70 772.00C364.60 771.58 364.75 771.10 365.60 769.90C366.45 768.70 367.02 766.35 367.80 764.80C368.58 763.25 369.47 761.45 370.30 760.60C371.13 759.75 372.10 759.57 372.80 759.70C373.50 759.83 374.42 760.27 374.50 761.40C374.58 762.53 373.30 764.67 373.30 766.50C373.30 768.33 373.80 770.48 374.50 772.40C375.20 774.32 376.93 776.65 377.50 778.00C378.07 779.35 377.83 780.08 377.90 780.50" fill="none" stroke="#231f20" stroke-width="1.125" stroke-linejoin="round" stroke-linecap="round"/>
<path d="M377.90 778.00C379.53 778.00 386.07 778.00 387.70 778.00" fill="none" stroke="#231f20" stroke-width="1.125" stroke-linejoin="round" stroke-linecap="round"/>
<path d="M371.60 761.40C371.80 761.97 372.60 764.23 372.80 764.80" fill="none" stroke="#231f20" stroke-width="0.75" stroke-linejoin="round" stroke-linecap="round"/>
<path d="M327.50 783.50C327.57 783.70 327.12 784.50 327.90 784.70C328.68 784.90 330.35 784.77 332.20 784.70C334.05 784.63 336.75 784.15 339.00 784.30C341.25 784.45 343.73 784.82 345.70 785.60C347.67 786.38 349.10 787.80 350.80 789.00C352.50 790.20 354.35 791.82 355.90 792.80C357.45 793.78 358.27 794.90 360.10 794.90C361.93 794.90 364.50 793.65 366.90 792.80C369.30 791.95 372.38 790.23 374.50 789.80C376.62 789.37 377.40 789.70 379.60 790.20C381.80 790.70 386.35 792.37 387.70 792.80" fill="none" stroke="#231f20" stroke-width="1.125" stroke-linejoin="round" stroke-linecap="round"/>
<path d="M327.90 784.30C329.03 783.80 331.58 781.93 334.70 781.30C337.82 780.67 344.62 780.63 346.60 780.50" fill="none" stroke="#231f20" stroke-width="1.0" stroke-linejoin="round" stroke-linecap="round"/>
<path d="M333.90 782.60C335.17 782.82 338.53 783.18 341.50 783.90C344.47 784.62 350.00 786.40 351.70 786.90" fill="none" stroke="#231f20" stroke-width="1.0" stroke-linejoin="round" stroke-linecap="round"/>
<path d="M355.50 778.40C355.57 779.25 355.62 781.53 355.90 783.50C356.18 785.47 356.98 789.08 357.20 790.20" fill="none" stroke="#231f20" stroke-width="1.0" stroke-linejoin="round" stroke-linecap="round"/>
<path d="M565.50 800.00C566.00 799.28 567.02 797.05 568.50 795.70C569.98 794.35 572.15 792.95 574.40 791.90C576.65 790.85 579.03 789.90 582.00 789.40C584.97 788.90 589.08 789.05 592.20 788.90C595.32 788.75 598.80 788.92 600.70 788.50C602.60 788.08 602.75 787.60 603.60 786.40C604.45 785.20 605.02 782.85 605.80 781.30C606.58 779.75 607.47 777.95 608.30 777.10C609.13 776.25 610.10 776.07 610.80 776.20C611.50 776.33 612.42 776.77 612.50 777.90C612.58 779.03 611.30 781.17 611.30 783.00C611.30 784.83 611.80 786.98 612.50 788.90C613.20 790.82 614.93 793.15 615.50 794.50C616.07 795.85 615.83 796.58 615.90 797.00" fill="none" stroke="#231f20" stroke-width="1.125" stroke-linejoin="round" stroke-linecap="round"/>
<path d="M615.90 794.50C617.53 794.50 624.07 794.50 625.70 794.50" fill="none" stroke="#231f20" stroke-width="1.125" stroke-linejoin="round" stroke-linecap="round"/>
<path d="M609.60 777.90C609.80 778.47 610.60 780.73 610.80 781.30" fill="none" stroke="#231f20" stroke-width="0.75" stroke-linejoin="round" stroke-linecap="round"/>
<path d="M565.50 800.00C565.57 800.20 565.12 801.00 565.90 801.20C566.68 801.40 568.35 801.27 570.20 801.20C572.05 801.13 574.75 800.65 577.00 800.80C579.25 800.95 581.73 801.32 583.70 802.10C585.67 802.88 587.10 804.30 588.80 805.50C590.50 806.70 592.35 808.32 593.90 809.30C595.45 810.28 596.27 811.40 598.10 811.40C599.93 811.40 602.50 810.15 604.90 809.30C607.30 808.45 610.38 806.73 612.50 806.30C614.62 805.87 615.40 806.20 617.60 806.70C619.80 807.20 624.35 808.87 625.70 809.30" fill="none" stroke="#231f20" stroke-width="1.125" stroke-linejoin="round" stroke-linecap="round"/>
<path d="M565.90 800.80C567.03 800.30 569.58 798.43 572.70 797.80C575.82 797.17 582.62 797.13 584.60 797.00" fill="none" stroke="#231f20" stroke-width="1.0" stroke-linejoin="round" stroke-linecap="round"/>
<path d="M571.90 799.10C573.17 799.32 576.53 799.68 579.50 800.40C582.47 801.12 588.00 802.90 589.70 803.40" fill="none" stroke="#231f20" stroke-width="1.0" stroke-linejoin="round" stroke-linecap="round"/>
<path d="M593.50 794.90C593.57 795.75 593.62 798.03 593.90 800.00C594.18 801.97 594.98 805.58 595.20 806.70" fill="none" stroke="#231f20" stroke-width="1.0" stroke-linejoin="round" stroke-linecap="round"/>
<path d="M688.50 805.30C689.00 804.58 690.02 802.35 691.50 801.00C692.98 799.65 695.15 798.25 697.40 797.20C699.65 796.15 702.03 795.20 705.00 794.70C707.97 794.20 712.08 794.35 715.20 794.20C718.32 794.05 721.80 794.22 723.70 793.80C725.60 793.38 725.75 792.90 726.60 791.70C727.45 790.50 728.02 788.15 728.80 786.60C729.58 785.05 730.47 783.25 731.30 782.40C732.13 781.55 733.10 781.37 733.80 781.50C734.50 781.63 735.42 782.07 735.50 783.20C735.58 784.33 734.30 786.47 734.30 788.30C734.30 790.13 734.80 792.28 735.50 794.20C736.20 796.12 737.93 798.45 738.50 799.80C739.07 801.15 738.83 801.88 738.90 802.30" fill="none" stroke="#231f20" stroke-width="1.125" stroke-linejoin="round" stroke-linecap="round"/>
<path d="M738.90 799.80C740.53 799.80 747.07 799.80 748.70 799.80" fill="none" stroke="#231f20" stroke-width="1.125" stroke-linejoin="round" stroke-linecap="round"/>
<path d="M732.60 783.20C732.80 783.77 733.60 786.03 733.80 786.60" fill="none" stroke="#231f20" stroke-width="0.75" stroke-linejoin="round" stroke-linecap="round"/>
<path d="M688.50 805.30C688.57 805.50 688.12 806.30 688.90 806.50C689.68 806.70 691.35 806.57 693.20 806.50C695.05 806.43 697.75 805.95 700.00 806.10C702.25 806.25 704.73 806.62 706.70 807.40C708.67 808.18 710.10 809.60 711.80 810.80C713.50 812.00 715.35 813.62 716.90 814.60C718.45 815.58 719.27 816.70 721.10 816.70C722.93 816.70 725.50 815.45 727.90 814.60C730.30 813.75 733.38 812.03 735.50 811.60C737.62 811.17 738.40 811.50 740.60 812.00C742.80 812.50 747.35 814.17 748.70 814.60" fill="none" stroke="#231f20" stroke-width="1.125" stroke-linejoin="round" stroke-linecap="round"/>
<path d="M688.90 806.10C690.03 805.60 692.58 803.73 695.70 803.10C698.82 802.47 705.62 802.43 707.60 802.30" fill="none" stroke="#231f20" stroke-width="1.0" stroke-linejoin="round" stroke-linecap="round"/>
<path d="M694.90 804.40C696.17 804.62 699.53 804.98 702.50 805.70C705.47 806.42 711.00 808.20 712.70 808.70" fill="none" stroke="#231f20" stroke-width="1.0" stroke-linejoin="round" stroke-linecap="round"/>
<path d="M716.50 800.20C716.57 801.05 716.62 803.33 716.90 805.30C717.18 807.27 717.98 810.88 718.20 812.00" fill="none" stroke="#231f20" stroke-width="1.0" stroke-linejoin="round" stroke-linecap="round"/>
<path d="M357.9 600.6L370 602.7L369.4 605.7L368.2 609.4Z" fill="#231f20"/>
<path d="M369.40 605.80C370.20 606.05 372.60 607.00 374.20 607.30C375.80 607.60 377.18 607.82 379.00 607.60C380.82 607.38 383.27 606.67 385.10 606.00C386.93 605.33 388.38 604.40 390.00 603.60C391.62 602.80 394.00 601.60 394.80 601.20" fill="none" stroke="#231f20" stroke-width="0.9" stroke-linejoin="round" stroke-linecap="round"/>
<line x1="467.70" y1="277.30" x2="579.40" y2="277.30" stroke="#231f20" stroke-width="1.1" stroke-linecap="butt"/>
<line x1="494.00" y1="277.00" x2="501.40" y2="266.80" stroke="#231f20" stroke-width="1.0" stroke-linecap="butt"/>
<line x1="513.30" y1="277.00" x2="520.70" y2="266.80" stroke="#231f20" stroke-width="1.0" stroke-linecap="butt"/>
<line x1="533.10" y1="277.00" x2="540.50" y2="266.80" stroke="#231f20" stroke-width="1.0" stroke-linecap="butt"/>
<line x1="552.30" y1="277.00" x2="559.70" y2="266.80" stroke="#231f20" stroke-width="1.0" stroke-linecap="butt"/>
<path d="M483.4 292.8L511.8 286.9L515.2 288.6L486.8 294.6Z" fill="#fff" stroke="#231f20" stroke-width="1.2" stroke-linejoin="round" stroke-linecap="round"/>
<path d="M486.8 294.6L515.2 288.6L515.2 291.6L486.8 297.6Z" fill="#fff" stroke="#231f20" stroke-width="1.2" stroke-linejoin="round" stroke-linecap="round"/>
<path d="M483.4 292.8L486.8 294.6L486.8 300.6L483.4 298.8Z" fill="#fff" stroke="#231f20" stroke-width="1.2" stroke-linejoin="round" stroke-linecap="round"/>
<path d="M515.2 288.6L517.0 289.6L517.0 294.8L515.2 293.8Z" fill="#fff" stroke="#231f20" stroke-width="1.2" stroke-linejoin="round" stroke-linecap="round"/>
<ellipse cx="491.6" cy="295.6" rx="1.8" ry="1.2" fill="#231f20"/>
<ellipse cx="500.3" cy="293.8" rx="1.8" ry="1.2" fill="#231f20"/>
<ellipse cx="508.6" cy="292.0" rx="1.8" ry="1.2" fill="#231f20"/>
<line x1="484.60" y1="295.50" x2="484.60" y2="299.60" stroke="#231f20" stroke-width="1.6" stroke-linecap="butt"/>
<line x1="516.20" y1="290.20" x2="516.20" y2="294.20" stroke="#231f20" stroke-width="1.6" stroke-linecap="butt"/>
<path d="M481.3 308.8L481.3 318A20.85 3.6 0 0 0 523 318L523 308.8" fill="#fff" stroke="#231f20" stroke-width="1.3" stroke-linejoin="round" stroke-linecap="round"/>
<ellipse cx="502.15" cy="308.8" rx="20.85" ry="3.6" fill="#fff" stroke="#231f20" stroke-width="1.3"/>
<path d="M483 307.6A20.85 3.6 0 0 1 521.3 307.6" fill="none" stroke="#231f20" stroke-width="1.0" stroke-linejoin="round" stroke-linecap="round"/>
<rect x="499.60" y="321.80" width="3.30" height="4.00" fill="#fff" stroke="#231f20" stroke-width="0.8"/>
<line x1="500.10" y1="325.80" x2="500.10" y2="375.50" stroke="#231f20" stroke-width="1.0" stroke-linecap="butt"/>
<line x1="503.00" y1="325.80" x2="503.00" y2="375.50" stroke="#231f20" stroke-width="1.0" stroke-linecap="butt"/>
<path d="M466.7 311.6h3.8v7h-3.8z M470.5 312.6h7v5h-7z" fill="#231f20"/>
<path d="M472 313.3v3.4M474.5 313.3v3.4" stroke="#777" stroke-width="0.5"/>
<line x1="523.00" y1="314.20" x2="527.40" y2="314.20" stroke="#231f20" stroke-width="0.9" stroke-linecap="butt"/>
<path d="M527.4 312.2h7.6v4.6h-7.6z M535 310.4h3.2l1.5 1.5v4.8l-1.5 1.4h-3.2z" fill="#231f20"/>
<path d="M530 312.8v3.4M532.5 312.8v3.4" stroke="#777" stroke-width="0.5"/>
<circle cx="506.6" cy="324.3" r="1.2" fill="#231f20"/>
<line x1="507.50" y1="324.60" x2="520.70" y2="325.40" stroke="#231f20" stroke-width="1.2" stroke-linecap="butt"/>
<rect x="509.5" y="324.1" width="4" height="1.8" fill="#231f20"/><rect x="516" y="324.5" width="4.2" height="1.8" fill="#231f20"/>
<path d="M520.7 325.4L521.2 326.6M523.8 323.3Q526.3 322 527.7 323.5L527.7 329.8L526.4 330.5" fill="none" stroke="#231f20" stroke-width="1.2" stroke-linejoin="round" stroke-linecap="round"/>
<rect x="526.6" y="327.5" width="1.6" height="3.3" fill="#231f20"/>
<path d="M542.3 313.4L548.8 312.1M542.6 314.4L548.8 316.1" fill="none" stroke="#231f20" stroke-width="1.0" stroke-linejoin="round" stroke-linecap="round"/>
<rect x="548.80" y="312.10" width="16.00" height="4.00" fill="#fff" stroke="#231f20" stroke-width="1.0"/>
<path d="M553.2 305.3Q553.8 301.6 556.4 301.8L559.7 302Q562.3 304.5 562.1 311" fill="none" stroke="#231f20" stroke-width="1.3" stroke-linejoin="round" stroke-linecap="round"/>
<path d="M555.5 304.2L553.2 305.6L552.3 303.6" fill="none" stroke="#231f20" stroke-width="1.2" stroke-linejoin="round" stroke-linecap="round"/>
<path d="M561.3 317.6Q561 326 558.6 327.2Q556.2 326.8 555.2 324.5L553.6 321.6" fill="none" stroke="#231f20" stroke-width="1.3" stroke-linejoin="round" stroke-linecap="round"/>
<path d="M552.4 321.2L554.2 325.6L556.4 322" fill="none" stroke="#231f20" stroke-width="1.2" stroke-linejoin="round" stroke-linecap="round"/>
<rect x="564.4" y="308.3" width="3.4" height="11.1" rx="1.7" fill="#fff" stroke="#231f20" stroke-width="1.1"/>
<path d="M567.8 309.3L571.6 309.3L572.3 310.2L588.4 310.2L588.4 318.2L572.3 318.2L571.6 318.9L567.8 318.9Z" fill="#fff" stroke="#231f20" stroke-width="1.1" stroke-linejoin="round" stroke-linecap="round"/>
<line x1="572.30" y1="313.20" x2="586.20" y2="313.20" stroke="#231f20" stroke-width="0.9" stroke-linecap="butt"/>
<line x1="572.30" y1="315.40" x2="586.20" y2="315.40" stroke="#231f20" stroke-width="0.9" stroke-linecap="butt"/>
<rect x="585.6" y="310.2" width="2.8" height="8" rx="1.2" fill="#fff" stroke="#231f20" stroke-width="0.9"/>
<line x1="572.30" y1="310.20" x2="572.30" y2="318.20" stroke="#231f20" stroke-width="0.9" stroke-linecap="butt"/>
<rect x="649.20" y="294.20" width="12.30" height="36.00" fill="#fff" stroke="#231f20" stroke-width="1.1"/>
<rect x="665.30" y="294.20" width="11.50" height="36.00" fill="#fff" stroke="#231f20" stroke-width="1.1"/>
<rect x="680.60" y="294.20" width="12.00" height="36.00" fill="#fff" stroke="#231f20" stroke-width="1.1"/>
<circle cx="655.5" cy="303.6" r="4.1" fill="#d8d8d8" stroke="#231f20" stroke-width="1.9"/>
<line x1="652.90" y1="305.80" x2="658.10" y2="301.40" stroke="#231f20" stroke-width="1.2" stroke-linecap="butt"/>
<circle cx="655.5" cy="321.6" r="4.1" fill="#d8d8d8" stroke="#231f20" stroke-width="1.9"/>
<line x1="652.90" y1="323.80" x2="658.10" y2="319.40" stroke="#231f20" stroke-width="1.2" stroke-linecap="butt"/>
<circle cx="671.2" cy="303.6" r="4.1" fill="#d8d8d8" stroke="#231f20" stroke-width="1.9"/>
<line x1="668.60" y1="305.80" x2="673.80" y2="301.40" stroke="#231f20" stroke-width="1.2" stroke-linecap="butt"/>
<circle cx="671.2" cy="321.6" r="4.1" fill="#d8d8d8" stroke="#231f20" stroke-width="1.9"/>
<line x1="668.60" y1="323.80" x2="673.80" y2="319.40" stroke="#231f20" stroke-width="1.2" stroke-linecap="butt"/>
<circle cx="686.6" cy="303.6" r="4.1" fill="#d8d8d8" stroke="#231f20" stroke-width="1.9"/>
<line x1="684.00" y1="305.80" x2="689.20" y2="301.40" stroke="#231f20" stroke-width="1.2" stroke-linecap="butt"/>
<circle cx="686.6" cy="321.6" r="4.1" fill="#d8d8d8" stroke="#231f20" stroke-width="1.9"/>
<line x1="684.00" y1="323.80" x2="689.20" y2="319.40" stroke="#231f20" stroke-width="1.2" stroke-linecap="butt"/>
<circle cx="663.3" cy="311.8" r="3.2" fill="#e0e0e0" stroke="#231f20" stroke-width="1.4"/>
<line x1="661.30" y1="311.80" x2="665.30" y2="311.80" stroke="#231f20" stroke-width="0.9" stroke-linecap="butt"/>
<line x1="663.30" y1="309.80" x2="663.30" y2="313.80" stroke="#231f20" stroke-width="0.9" stroke-linecap="butt"/>
<circle cx="678.8" cy="311.8" r="3.2" fill="#e0e0e0" stroke="#231f20" stroke-width="1.4"/>
<line x1="676.80" y1="311.80" x2="680.80" y2="311.80" stroke="#231f20" stroke-width="0.9" stroke-linecap="butt"/>
<line x1="678.80" y1="309.80" x2="678.80" y2="313.80" stroke="#231f20" stroke-width="0.9" stroke-linecap="butt"/>
<line x1="654.40" y1="266.40" x2="654.40" y2="294.20" stroke="#231f20" stroke-width="1.0" stroke-linecap="butt"/>
<line x1="654.40" y1="333.40" x2="654.40" y2="360.70" stroke="#231f20" stroke-width="1.0" stroke-linecap="butt"/>
<line x1="657.50" y1="266.40" x2="657.50" y2="294.20" stroke="#231f20" stroke-width="1.0" stroke-linecap="butt"/>
<line x1="657.50" y1="333.40" x2="657.50" y2="360.70" stroke="#231f20" stroke-width="1.0" stroke-linecap="butt"/>
<line x1="685.50" y1="266.40" x2="685.50" y2="294.20" stroke="#231f20" stroke-width="1.0" stroke-linecap="butt"/>
<line x1="685.50" y1="333.40" x2="685.50" y2="360.70" stroke="#231f20" stroke-width="1.0" stroke-linecap="butt"/>
<line x1="688.70" y1="266.40" x2="688.70" y2="294.20" stroke="#231f20" stroke-width="1.0" stroke-linecap="butt"/>
<line x1="688.70" y1="333.40" x2="688.70" y2="360.70" stroke="#231f20" stroke-width="1.0" stroke-linecap="butt"/>
<line x1="669.60" y1="277.90" x2="669.60" y2="294.20" stroke="#231f20" stroke-width="1.0" stroke-linecap="butt"/>
<line x1="669.60" y1="333.40" x2="669.60" y2="347.60" stroke="#231f20" stroke-width="1.0" stroke-linecap="butt"/>
<line x1="672.50" y1="277.90" x2="672.50" y2="294.20" stroke="#231f20" stroke-width="1.0" stroke-linecap="butt"/>
<line x1="672.50" y1="333.40" x2="672.50" y2="347.60" stroke="#231f20" stroke-width="1.0" stroke-linecap="butt"/>
<circle cx="671.0" cy="271.3" r="6.4" fill="#fff" stroke="#231f20" stroke-width="1.1"/>
<circle cx="671.0" cy="354.2" r="6.4" fill="#fff" stroke="#231f20" stroke-width="1.1"/>
<line x1="667.60" y1="352.60" x2="674.40" y2="352.60" stroke="#231f20" stroke-width="0.9" stroke-linecap="butt"/>
<line x1="666.20" y1="355.20" x2="675.80" y2="355.20" stroke="#231f20" stroke-width="0.9" stroke-linecap="butt"/>
<line x1="671.00" y1="355.20" x2="671.00" y2="359.60" stroke="#231f20" stroke-width="0.9" stroke-linecap="butt"/>
<line x1="668.80" y1="350.20" x2="673.20" y2="350.20" stroke="#231f20" stroke-width="0.9" stroke-linecap="butt"/>
<text x="641.2" y="297.6" font-family="Liberation Sans" font-size="12.2" font-weight="normal" fill="#111" stroke="#111" stroke-width="0.3">L</text>
<text x="641.2" y="333.5" font-family="Liberation Sans" font-size="12.2" font-weight="normal" fill="#111" stroke="#111" stroke-width="0.3">L</text>
<text x="695.6" y="297.6" font-family="Liberation Sans" font-size="12.2" font-weight="normal" fill="#111" stroke="#111" stroke-width="0.3">N</text>
<text x="695.6" y="333.5" font-family="Liberation Sans" font-size="12.2" font-weight="normal" fill="#111" stroke="#111" stroke-width="0.3">N</text>
<line x1="147.40" y1="282.60" x2="161.30" y2="282.60" stroke="#231f20" stroke-width="1.3" stroke-linecap="butt"/>
<line x1="147.40" y1="299.50" x2="160.10" y2="299.50" stroke="#231f20" stroke-width="1.3" stroke-linecap="butt"/>
<line x1="240.60" y1="282.60" x2="249.00" y2="282.60" stroke="#231f20" stroke-width="1.3" stroke-linecap="butt"/>
<line x1="240.60" y1="298.60" x2="249.00" y2="298.60" stroke="#231f20" stroke-width="1.3" stroke-linecap="butt"/>
<path d="M167.4 270.4L162.6 272.3L159.2 272.3L159.2 282.6L161.3 282.6L161.3 299.5L160.1 299.5L160.1 308L161 310.1L168.6 310.1" fill="none" stroke="#231f20" stroke-width="1.2" stroke-linejoin="round" stroke-linecap="round"/>
<rect x="167.40" y="270.40" width="69.00" height="7.60" fill="#fff" stroke="#231f20" stroke-width="1.2"/>
<line x1="176.50" y1="270.40" x2="176.50" y2="278.00" stroke="#231f20" stroke-width="1.1" stroke-linecap="butt"/>
<line x1="184.60" y1="270.40" x2="184.60" y2="278.00" stroke="#231f20" stroke-width="1.1" stroke-linecap="butt"/>
<line x1="193.20" y1="270.40" x2="193.20" y2="278.00" stroke="#231f20" stroke-width="1.1" stroke-linecap="butt"/>
<line x1="201.70" y1="270.40" x2="201.70" y2="278.00" stroke="#231f20" stroke-width="1.1" stroke-linecap="butt"/>
<line x1="209.20" y1="270.40" x2="209.20" y2="278.00" stroke="#231f20" stroke-width="1.1" stroke-linecap="butt"/>
<line x1="216.40" y1="270.40" x2="216.40" y2="278.00" stroke="#231f20" stroke-width="1.1" stroke-linecap="butt"/>
<line x1="223.70" y1="270.40" x2="223.70" y2="278.00" stroke="#231f20" stroke-width="1.1" stroke-linecap="butt"/>
<line x1="231.00" y1="270.40" x2="231.00" y2="278.00" stroke="#231f20" stroke-width="1.1" stroke-linecap="butt"/>
<circle cx="171.95" cy="273.6" r="2.0" fill="#231f20"/>
<circle cx="180.55" cy="273.6" r="2.0" fill="#231f20"/>
<circle cx="188.90" cy="273.6" r="2.0" fill="#231f20"/>
<circle cx="197.45" cy="273.6" r="2.0" fill="#231f20"/>
<circle cx="205.45" cy="273.6" r="2.0" fill="#231f20"/>
<circle cx="212.80" cy="273.6" r="2.0" fill="#231f20"/>
<circle cx="220.05" cy="273.6" r="2.0" fill="#231f20"/>
<circle cx="227.35" cy="273.6" r="2.0" fill="#231f20"/>
<circle cx="233.70" cy="273.6" r="2.0" fill="#231f20"/>
<rect x="170.40" y="279.20" width="70.20" height="20.60" fill="#fff" stroke="#231f20" stroke-width="1.2"/>
<rect x="170.4" y="284.3" width="70.2" height="8.3" fill="#231f20"/>
<line x1="178.30" y1="279.20" x2="178.30" y2="299.80" stroke="#231f20" stroke-width="1.1" stroke-linecap="butt"/>
<line x1="186.20" y1="279.20" x2="186.20" y2="299.80" stroke="#231f20" stroke-width="1.1" stroke-linecap="butt"/>
<line x1="194.60" y1="279.20" x2="194.60" y2="299.80" stroke="#231f20" stroke-width="1.1" stroke-linecap="butt"/>
<line x1="203.10" y1="279.20" x2="203.10" y2="299.80" stroke="#231f20" stroke-width="1.1" stroke-linecap="butt"/>
<line x1="211.00" y1="279.20" x2="211.00" y2="299.80" stroke="#231f20" stroke-width="1.1" stroke-linecap="butt"/>
<line x1="218.80" y1="279.20" x2="218.80" y2="299.80" stroke="#231f20" stroke-width="1.1" stroke-linecap="butt"/>
<line x1="226.10" y1="279.20" x2="226.10" y2="299.80" stroke="#231f20" stroke-width="1.1" stroke-linecap="butt"/>
<line x1="234.00" y1="279.20" x2="234.00" y2="299.80" stroke="#231f20" stroke-width="1.1" stroke-linecap="butt"/>
<rect x="171.70" y="280.3" width="5.30" height="2.2" fill="#e8e8e8"/>
<rect x="179.60" y="280.3" width="5.30" height="2.2" fill="#e8e8e8"/>
<rect x="187.50" y="280.3" width="5.80" height="2.2" fill="#e8e8e8"/>
<rect x="195.90" y="280.3" width="5.90" height="2.2" fill="#e8e8e8"/>
<rect x="204.40" y="280.3" width="5.30" height="2.2" fill="#e8e8e8"/>
<rect x="212.30" y="280.3" width="5.20" height="2.2" fill="#e8e8e8"/>
<rect x="220.10" y="280.3" width="4.70" height="2.2" fill="#e8e8e8"/>
<rect x="227.40" y="280.3" width="5.30" height="2.2" fill="#e8e8e8"/>
<rect x="235.30" y="280.3" width="4.00" height="2.2" fill="#e8e8e8"/>
<rect x="168.60" y="300.40" width="69.00" height="9.70" fill="#fff" stroke="#231f20" stroke-width="1.2"/>
<line x1="177.10" y1="300.40" x2="177.10" y2="310.10" stroke="#231f20" stroke-width="1.1" stroke-linecap="butt"/>
<line x1="185.00" y1="300.40" x2="185.00" y2="310.10" stroke="#231f20" stroke-width="1.1" stroke-linecap="butt"/>
<line x1="193.40" y1="300.40" x2="193.40" y2="310.10" stroke="#231f20" stroke-width="1.1" stroke-linecap="butt"/>
<line x1="201.90" y1="300.40" x2="201.90" y2="310.10" stroke="#231f20" stroke-width="1.1" stroke-linecap="butt"/>
<line x1="210.40" y1="300.40" x2="210.40" y2="310.10" stroke="#231f20" stroke-width="1.1" stroke-linecap="butt"/>
<line x1="218.80" y1="300.40" x2="218.80" y2="310.10" stroke="#231f20" stroke-width="1.1" stroke-linecap="butt"/>
<line x1="224.30" y1="300.40" x2="224.30" y2="310.10" stroke="#231f20" stroke-width="1.1" stroke-linecap="butt"/>
<line x1="231.00" y1="300.40" x2="231.00" y2="310.10" stroke="#231f20" stroke-width="1.1" stroke-linecap="butt"/>
<path d="M170.00 309.4L170.00 305.8A2.85 2.85 0 0 1 175.70 305.8L175.70 309.4Z" fill="#231f20"/>
<path d="M178.50 309.4L178.50 305.8A2.55 2.55 0 0 1 183.60 305.8L183.60 309.4Z" fill="#231f20"/>
<path d="M186.40 309.4L186.40 305.8A2.80 2.80 0 0 1 192.00 305.8L192.00 309.4Z" fill="#231f20"/>
<path d="M194.80 309.4L194.80 305.8A2.85 2.85 0 0 1 200.50 305.8L200.50 309.4Z" fill="#231f20"/>
<path d="M203.30 309.4L203.30 305.8A2.85 2.85 0 0 1 209.00 305.8L209.00 309.4Z" fill="#231f20"/>
<path d="M211.80 309.4L211.80 305.8A2.80 2.80 0 0 1 217.40 305.8L217.40 309.4Z" fill="#231f20"/>
<path d="M220.20 309.4L220.20 305.8A1.35 1.35 0 0 1 222.90 305.8L222.90 309.4Z" fill="#231f20"/>
<path d="M225.70 309.4L225.70 305.8A1.95 1.95 0 0 1 229.60 305.8L229.60 309.4Z" fill="#231f20"/>
<path d="M232.40 309.4L232.40 305.8A1.90 1.90 0 0 1 236.20 305.8L236.20 309.4Z" fill="#231f20"/>
<path d="M211.50 290.30C211.50 290.30 212.47 290.17 213.20 290.80C213.93 291.43 215.00 292.55 215.90 294.10C216.80 295.65 217.65 298.18 218.60 300.10C219.55 302.02 220.58 303.78 221.60 305.60C222.62 307.42 223.88 309.08 224.70 311.00C225.52 312.92 225.80 315.48 226.50 317.10C227.20 318.72 230.72 320.20 228.90 320.70C227.08 321.20 218.22 321.52 215.60 320.10C212.98 318.68 213.92 314.32 213.20 312.20C212.48 310.08 211.82 309.42 211.30 307.40C210.78 305.38 210.45 302.32 210.10 300.10C209.75 297.88 208.97 295.73 209.20 294.10C209.43 292.47 210.83 290.85 211.50 290.30Z" fill="#fff" stroke="none"/>
<path d="M212.00 290.40C212.20 290.47 212.55 290.18 213.20 290.80C213.85 291.42 215.00 292.55 215.90 294.10C216.80 295.65 217.65 298.18 218.60 300.10C219.55 302.02 220.58 303.78 221.60 305.60C222.62 307.42 223.88 309.08 224.70 311.00C225.52 312.92 225.80 315.48 226.50 317.10C227.20 318.72 227.90 319.90 228.90 320.70C229.90 321.50 231.28 321.50 232.50 321.90C233.72 322.30 234.78 322.48 236.20 323.10C237.62 323.72 240.20 325.18 241.00 325.60" fill="none" stroke="#231f20" stroke-width="1.2" stroke-linejoin="round" stroke-linecap="round"/>
<path d="M211.00 290.90C210.70 291.43 209.35 292.57 209.20 294.10C209.05 295.63 209.75 297.88 210.10 300.10C210.45 302.32 210.78 305.38 211.30 307.40C211.82 309.42 212.48 310.08 213.20 312.20C213.92 314.32 215.05 317.57 215.60 320.10C216.15 322.63 216.40 323.67 216.50 327.40C216.60 331.13 216.25 339.98 216.20 342.50" fill="none" stroke="#231f20" stroke-width="1.2" stroke-linejoin="round" stroke-linecap="round"/>
<ellipse cx="212.6" cy="292.0" rx="2.3" ry="1.3" transform="rotate(40 212.6 292)" fill="#fff" stroke="#231f20" stroke-width="0.8"/>
<path d="M216.20 320.70C215.38 321.00 212.92 321.58 211.30 322.50C209.68 323.42 207.30 325.08 206.50 326.20C205.70 327.32 206.20 328.00 206.50 329.20C206.80 330.40 207.38 331.88 208.30 333.40C209.22 334.92 210.78 336.78 212.00 338.30C213.22 339.82 215.00 341.80 215.60 342.50" fill="none" stroke="#231f20" stroke-width="1.2" stroke-linejoin="round" stroke-linecap="round"/>
<path d="M208.90 328.30C209.50 328.43 211.28 328.90 212.50 329.10C213.72 329.30 215.58 329.43 216.20 329.50" fill="none" stroke="#231f20" stroke-width="0.9" stroke-linejoin="round" stroke-linecap="round"/>
<path d="M208.30 334.00C207.80 334.20 206.50 333.98 205.30 335.20C204.10 336.42 201.80 340.28 201.10 341.30" fill="none" stroke="#231f20" stroke-width="1.2" stroke-linejoin="round" stroke-linecap="round"/>
<path d="M265.90 272.30C266.50 273.35 268.55 276.40 269.50 278.60C270.45 280.80 271.28 283.22 271.60 285.50C271.92 287.78 271.63 290.45 271.40 292.30C271.17 294.15 270.40 295.88 270.20 296.60" fill="none" stroke="#231f20" stroke-width="1.3" stroke-linejoin="round" stroke-linecap="round"/>
<path d="M266.4 296.8L272.3 299.5L263.4 310Z" fill="#231f20"/>
<text x="231.1" y="350.6" font-family="Liberation Sans" font-size="18.2" font-weight="normal" fill="#111" textLength="35.7" lengthAdjust="spacingAndGlyphs">OFF</text>
</svg>
</body></html>
